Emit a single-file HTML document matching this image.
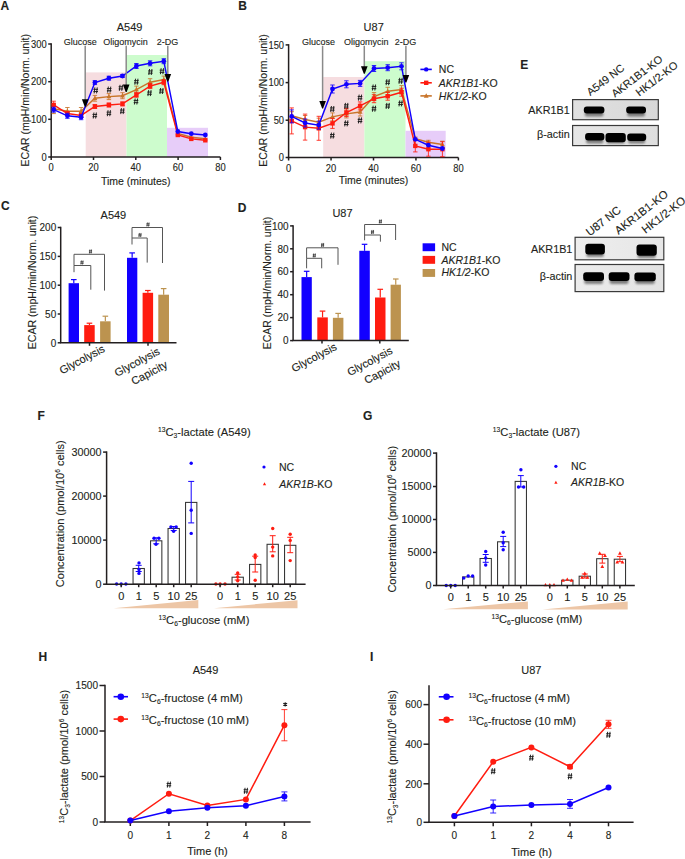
<!DOCTYPE html>
<html><head><meta charset="utf-8"><style>
html,body{margin:0;padding:0;background:#fff;}
svg{display:block;font-family:"Liberation Sans",sans-serif;}
text{stroke:#231f20;stroke-width:0.12px;}
</style></head><body>
<svg width="685" height="859" viewBox="0 0 685 859">
<defs><filter id="bl1" x="-20%" y="-50%" width="140%" height="200%"><feGaussianBlur stdDeviation="0.75"/></filter><filter id="bl2" x="-20%" y="-80%" width="140%" height="260%"><feGaussianBlur stdDeviation="1.3"/></filter></defs>
<rect width="685" height="859" fill="#fff"/>
<text x="0.5" y="9.8" font-size="12" font-weight="bold" fill="#231f20">A</text>
<text x="129.6" y="30.66" font-size="11" text-anchor="middle" fill="#231f20">A549</text>
<rect x="85.7" y="72.4" width="40.8" height="84.6" fill="#f6dde0"/>
<rect x="126.5" y="55" width="40.5" height="102" fill="#cdfccd"/>
<rect x="167" y="127.8" width="41" height="29.2" fill="#e7cdf9"/>
<line x1="51.2" y1="43.25" x2="51.2" y2="157" stroke="#231f20" stroke-width="1.5"/>
<line x1="48.2" y1="44" x2="51.2" y2="44" stroke="#231f20" stroke-width="1.5"/>
<text x="46.7" y="47.67" font-size="10.2" text-anchor="end" transform="translate(46.7 44) scale(0.92 1) translate(-46.7 -44)" fill="#231f20">300</text>
<line x1="48.2" y1="81.7" x2="51.2" y2="81.7" stroke="#231f20" stroke-width="1.5"/>
<text x="46.7" y="85.37" font-size="10.2" text-anchor="end" transform="translate(46.7 81.7) scale(0.92 1) translate(-46.7 -81.7)" fill="#231f20">200</text>
<line x1="48.2" y1="119.3" x2="51.2" y2="119.3" stroke="#231f20" stroke-width="1.5"/>
<text x="46.7" y="122.97" font-size="10.2" text-anchor="end" transform="translate(46.7 119.3) scale(0.92 1) translate(-46.7 -119.3)" fill="#231f20">100</text>
<line x1="48.2" y1="157" x2="51.2" y2="157" stroke="#231f20" stroke-width="1.5"/>
<text x="46.7" y="160.67" font-size="10.2" text-anchor="end" transform="translate(46.7 157) scale(0.92 1) translate(-46.7 -157)" fill="#231f20">0</text>
<line x1="50.45" y1="157" x2="220.4" y2="157" stroke="#231f20" stroke-width="1.5"/>
<line x1="51.2" y1="157" x2="51.2" y2="160" stroke="#231f20" stroke-width="1.5"/>
<text x="51.2" y="171.17" font-size="10.2" text-anchor="middle" transform="translate(51.2 167.5) scale(0.92 1) translate(-51.2 -167.5)" fill="#231f20">0</text>
<line x1="93.5" y1="157" x2="93.5" y2="160" stroke="#231f20" stroke-width="1.5"/>
<text x="93.5" y="171.17" font-size="10.2" text-anchor="middle" transform="translate(93.5 167.5) scale(0.92 1) translate(-93.5 -167.5)" fill="#231f20">20</text>
<line x1="135.8" y1="157" x2="135.8" y2="160" stroke="#231f20" stroke-width="1.5"/>
<text x="135.8" y="171.17" font-size="10.2" text-anchor="middle" transform="translate(135.8 167.5) scale(0.92 1) translate(-135.8 -167.5)" fill="#231f20">40</text>
<line x1="178.1" y1="157" x2="178.1" y2="160" stroke="#231f20" stroke-width="1.5"/>
<text x="178.1" y="171.17" font-size="10.2" text-anchor="middle" transform="translate(178.1 167.5) scale(0.92 1) translate(-178.1 -167.5)" fill="#231f20">60</text>
<line x1="220.4" y1="157" x2="220.4" y2="160" stroke="#231f20" stroke-width="1.5"/>
<text x="220.4" y="171.17" font-size="10.2" text-anchor="middle" transform="translate(220.4 167.5) scale(0.92 1) translate(-220.4 -167.5)" fill="#231f20">80</text>
<text x="135.8" y="184.78" font-size="10.5" text-anchor="middle" fill="#231f20">Time (minutes)</text>
<text x="25" y="104.08" font-size="10.5" text-anchor="middle" transform="translate(25 100.3) rotate(-90) translate(-25 -100.3)" fill="#231f20">ECAR (mpH/min/Norm. unit)</text>
<text x="80.2" y="45.14" font-size="9" text-anchor="middle" fill="#231f20">Glucose</text>
<text x="125.4" y="45.14" font-size="9" text-anchor="middle" fill="#231f20">Oligomycin</text>
<text x="167.5" y="45.14" font-size="9" text-anchor="middle" fill="#231f20">2-DG</text>
<line x1="53.7" y1="104" x2="53.7" y2="113.6" stroke="#c8742a" stroke-width="0.85"/>
<line x1="51.5" y1="104" x2="55.9" y2="104" stroke="#c8742a" stroke-width="0.85"/>
<line x1="51.5" y1="113.6" x2="55.9" y2="113.6" stroke="#c8742a" stroke-width="0.85"/>
<line x1="67.4" y1="107.5" x2="67.4" y2="114.9" stroke="#c8742a" stroke-width="0.85"/>
<line x1="65.2" y1="107.5" x2="69.6" y2="107.5" stroke="#c8742a" stroke-width="0.85"/>
<line x1="65.2" y1="114.9" x2="69.6" y2="114.9" stroke="#c8742a" stroke-width="0.85"/>
<line x1="81.1" y1="107.5" x2="81.1" y2="114.9" stroke="#c8742a" stroke-width="0.85"/>
<line x1="78.9" y1="107.5" x2="83.3" y2="107.5" stroke="#c8742a" stroke-width="0.85"/>
<line x1="78.9" y1="114.9" x2="83.3" y2="114.9" stroke="#c8742a" stroke-width="0.85"/>
<line x1="94.9" y1="95.4" x2="94.9" y2="101.2" stroke="#c8742a" stroke-width="0.85"/>
<line x1="92.7" y1="95.4" x2="97.1" y2="95.4" stroke="#c8742a" stroke-width="0.85"/>
<line x1="92.7" y1="101.2" x2="97.1" y2="101.2" stroke="#c8742a" stroke-width="0.85"/>
<line x1="108.9" y1="93.6" x2="108.9" y2="99.6" stroke="#c8742a" stroke-width="0.85"/>
<line x1="106.7" y1="93.6" x2="111.1" y2="93.6" stroke="#c8742a" stroke-width="0.85"/>
<line x1="106.7" y1="99.6" x2="111.1" y2="99.6" stroke="#c8742a" stroke-width="0.85"/>
<line x1="122.5" y1="92.7" x2="122.5" y2="98.7" stroke="#c8742a" stroke-width="0.85"/>
<line x1="120.3" y1="92.7" x2="124.7" y2="92.7" stroke="#c8742a" stroke-width="0.85"/>
<line x1="120.3" y1="98.7" x2="124.7" y2="98.7" stroke="#c8742a" stroke-width="0.85"/>
<line x1="136.4" y1="86.1" x2="136.4" y2="93.1" stroke="#c8742a" stroke-width="0.85"/>
<line x1="134.2" y1="86.1" x2="138.6" y2="86.1" stroke="#c8742a" stroke-width="0.85"/>
<line x1="134.2" y1="93.1" x2="138.6" y2="93.1" stroke="#c8742a" stroke-width="0.85"/>
<line x1="150.1" y1="78.7" x2="150.1" y2="85.7" stroke="#c8742a" stroke-width="0.85"/>
<line x1="147.9" y1="78.7" x2="152.3" y2="78.7" stroke="#c8742a" stroke-width="0.85"/>
<line x1="147.9" y1="85.7" x2="152.3" y2="85.7" stroke="#c8742a" stroke-width="0.85"/>
<line x1="163.8" y1="76.1" x2="163.8" y2="83.1" stroke="#c8742a" stroke-width="0.85"/>
<line x1="161.6" y1="76.1" x2="166" y2="76.1" stroke="#c8742a" stroke-width="0.85"/>
<line x1="161.6" y1="83.1" x2="166" y2="83.1" stroke="#c8742a" stroke-width="0.85"/>
<polyline points="53.7,108.8 67.4,111.2 81.1,111.2 94.9,98.3 108.9,96.6 122.5,95.7 136.4,89.6 150.1,82.2 163.8,79.6 177.8,133.5 191.3,137.3 205.3,138.8" fill="none" stroke="#c8742a" stroke-width="1.45"/>
<polygon points="53.7,106.16 51.28,110.56 56.12,110.56" fill="#c8742a"/>
<polygon points="67.4,108.56 64.98,112.96 69.82,112.96" fill="#c8742a"/>
<polygon points="81.1,108.56 78.68,112.96 83.52,112.96" fill="#c8742a"/>
<polygon points="94.9,95.66 92.48,100.06 97.32,100.06" fill="#c8742a"/>
<polygon points="108.9,93.96 106.48,98.36 111.32,98.36" fill="#c8742a"/>
<polygon points="122.5,93.06 120.08,97.46 124.92,97.46" fill="#c8742a"/>
<polygon points="136.4,86.96 133.98,91.36 138.82,91.36" fill="#c8742a"/>
<polygon points="150.1,79.56 147.68,83.96 152.52,83.96" fill="#c8742a"/>
<polygon points="163.8,76.96 161.38,81.36 166.22,81.36" fill="#c8742a"/>
<polygon points="177.8,130.86 175.38,135.26 180.22,135.26" fill="#c8742a"/>
<polygon points="191.3,134.66 188.88,139.06 193.72,139.06" fill="#c8742a"/>
<polygon points="205.3,136.16 202.88,140.56 207.72,140.56" fill="#c8742a"/>
<line x1="53.7" y1="101.2" x2="53.7" y2="108.6" stroke="#ff1c10" stroke-width="0.85"/>
<line x1="51.5" y1="101.2" x2="55.9" y2="101.2" stroke="#ff1c10" stroke-width="0.85"/>
<line x1="51.5" y1="108.6" x2="55.9" y2="108.6" stroke="#ff1c10" stroke-width="0.85"/>
<line x1="67.4" y1="111.5" x2="67.4" y2="115.5" stroke="#ff1c10" stroke-width="0.85"/>
<line x1="65.2" y1="111.5" x2="69.6" y2="111.5" stroke="#ff1c10" stroke-width="0.85"/>
<line x1="65.2" y1="115.5" x2="69.6" y2="115.5" stroke="#ff1c10" stroke-width="0.85"/>
<line x1="81.1" y1="113.4" x2="81.1" y2="117.4" stroke="#ff1c10" stroke-width="0.85"/>
<line x1="78.9" y1="113.4" x2="83.3" y2="113.4" stroke="#ff1c10" stroke-width="0.85"/>
<line x1="78.9" y1="117.4" x2="83.3" y2="117.4" stroke="#ff1c10" stroke-width="0.85"/>
<line x1="94.9" y1="104.5" x2="94.9" y2="108.5" stroke="#ff1c10" stroke-width="0.85"/>
<line x1="92.7" y1="104.5" x2="97.1" y2="104.5" stroke="#ff1c10" stroke-width="0.85"/>
<line x1="92.7" y1="108.5" x2="97.1" y2="108.5" stroke="#ff1c10" stroke-width="0.85"/>
<line x1="108.9" y1="103" x2="108.9" y2="107" stroke="#ff1c10" stroke-width="0.85"/>
<line x1="106.7" y1="103" x2="111.1" y2="103" stroke="#ff1c10" stroke-width="0.85"/>
<line x1="106.7" y1="107" x2="111.1" y2="107" stroke="#ff1c10" stroke-width="0.85"/>
<line x1="122.5" y1="101.9" x2="122.5" y2="105.9" stroke="#ff1c10" stroke-width="0.85"/>
<line x1="120.3" y1="101.9" x2="124.7" y2="101.9" stroke="#ff1c10" stroke-width="0.85"/>
<line x1="120.3" y1="105.9" x2="124.7" y2="105.9" stroke="#ff1c10" stroke-width="0.85"/>
<line x1="136.4" y1="92.3" x2="136.4" y2="97.3" stroke="#ff1c10" stroke-width="0.85"/>
<line x1="134.2" y1="92.3" x2="138.6" y2="92.3" stroke="#ff1c10" stroke-width="0.85"/>
<line x1="134.2" y1="97.3" x2="138.6" y2="97.3" stroke="#ff1c10" stroke-width="0.85"/>
<line x1="150.1" y1="83.6" x2="150.1" y2="88.6" stroke="#ff1c10" stroke-width="0.85"/>
<line x1="147.9" y1="83.6" x2="152.3" y2="83.6" stroke="#ff1c10" stroke-width="0.85"/>
<line x1="147.9" y1="88.6" x2="152.3" y2="88.6" stroke="#ff1c10" stroke-width="0.85"/>
<line x1="163.8" y1="79.7" x2="163.8" y2="84.7" stroke="#ff1c10" stroke-width="0.85"/>
<line x1="161.6" y1="79.7" x2="166" y2="79.7" stroke="#ff1c10" stroke-width="0.85"/>
<line x1="161.6" y1="84.7" x2="166" y2="84.7" stroke="#ff1c10" stroke-width="0.85"/>
<polyline points="53.7,104.9 67.4,113.5 81.1,115.4 94.9,106.5 108.9,105 122.5,103.9 136.4,94.8 150.1,86.1 163.8,82.2 177.8,135 191.3,138.9 205.3,140.3" fill="none" stroke="#ff1c10" stroke-width="1.45"/>
<rect x="51.5" y="102.7" width="4.4" height="4.4" fill="#ff1c10"/>
<rect x="65.2" y="111.3" width="4.4" height="4.4" fill="#ff1c10"/>
<rect x="78.9" y="113.2" width="4.4" height="4.4" fill="#ff1c10"/>
<rect x="92.7" y="104.3" width="4.4" height="4.4" fill="#ff1c10"/>
<rect x="106.7" y="102.8" width="4.4" height="4.4" fill="#ff1c10"/>
<rect x="120.3" y="101.7" width="4.4" height="4.4" fill="#ff1c10"/>
<rect x="134.2" y="92.6" width="4.4" height="4.4" fill="#ff1c10"/>
<rect x="147.9" y="83.9" width="4.4" height="4.4" fill="#ff1c10"/>
<rect x="161.6" y="80" width="4.4" height="4.4" fill="#ff1c10"/>
<rect x="175.6" y="132.8" width="4.4" height="4.4" fill="#ff1c10"/>
<rect x="189.1" y="136.7" width="4.4" height="4.4" fill="#ff1c10"/>
<rect x="203.1" y="138.1" width="4.4" height="4.4" fill="#ff1c10"/>
<line x1="53.7" y1="107.2" x2="53.7" y2="112.2" stroke="#1200ff" stroke-width="0.85"/>
<line x1="51.5" y1="107.2" x2="55.9" y2="107.2" stroke="#1200ff" stroke-width="0.85"/>
<line x1="51.5" y1="112.2" x2="55.9" y2="112.2" stroke="#1200ff" stroke-width="0.85"/>
<line x1="67.4" y1="113.3" x2="67.4" y2="118.3" stroke="#1200ff" stroke-width="0.85"/>
<line x1="65.2" y1="113.3" x2="69.6" y2="113.3" stroke="#1200ff" stroke-width="0.85"/>
<line x1="65.2" y1="118.3" x2="69.6" y2="118.3" stroke="#1200ff" stroke-width="0.85"/>
<line x1="81.1" y1="114.7" x2="81.1" y2="119.7" stroke="#1200ff" stroke-width="0.85"/>
<line x1="78.9" y1="114.7" x2="83.3" y2="114.7" stroke="#1200ff" stroke-width="0.85"/>
<line x1="78.9" y1="119.7" x2="83.3" y2="119.7" stroke="#1200ff" stroke-width="0.85"/>
<line x1="94.9" y1="80.6" x2="94.9" y2="84.6" stroke="#1200ff" stroke-width="0.85"/>
<line x1="92.7" y1="80.6" x2="97.1" y2="80.6" stroke="#1200ff" stroke-width="0.85"/>
<line x1="92.7" y1="84.6" x2="97.1" y2="84.6" stroke="#1200ff" stroke-width="0.85"/>
<line x1="108.9" y1="76.2" x2="108.9" y2="80.2" stroke="#1200ff" stroke-width="0.85"/>
<line x1="106.7" y1="76.2" x2="111.1" y2="76.2" stroke="#1200ff" stroke-width="0.85"/>
<line x1="106.7" y1="80.2" x2="111.1" y2="80.2" stroke="#1200ff" stroke-width="0.85"/>
<line x1="122.5" y1="74.5" x2="122.5" y2="77.5" stroke="#1200ff" stroke-width="0.85"/>
<line x1="120.3" y1="74.5" x2="124.7" y2="74.5" stroke="#1200ff" stroke-width="0.85"/>
<line x1="120.3" y1="77.5" x2="124.7" y2="77.5" stroke="#1200ff" stroke-width="0.85"/>
<line x1="136.4" y1="63.5" x2="136.4" y2="68.5" stroke="#1200ff" stroke-width="0.85"/>
<line x1="134.2" y1="63.5" x2="138.6" y2="63.5" stroke="#1200ff" stroke-width="0.85"/>
<line x1="134.2" y1="68.5" x2="138.6" y2="68.5" stroke="#1200ff" stroke-width="0.85"/>
<line x1="150.1" y1="60.8" x2="150.1" y2="65.8" stroke="#1200ff" stroke-width="0.85"/>
<line x1="147.9" y1="60.8" x2="152.3" y2="60.8" stroke="#1200ff" stroke-width="0.85"/>
<line x1="147.9" y1="65.8" x2="152.3" y2="65.8" stroke="#1200ff" stroke-width="0.85"/>
<line x1="163.8" y1="58.7" x2="163.8" y2="63.7" stroke="#1200ff" stroke-width="0.85"/>
<line x1="161.6" y1="58.7" x2="166" y2="58.7" stroke="#1200ff" stroke-width="0.85"/>
<line x1="161.6" y1="63.7" x2="166" y2="63.7" stroke="#1200ff" stroke-width="0.85"/>
<polyline points="53.7,109.7 67.4,115.8 81.1,117.2 94.9,82.6 108.9,78.2 122.5,76 136.4,66 150.1,63.3 163.8,61.2 177.8,131.5 191.3,133.7 205.3,135" fill="none" stroke="#1200ff" stroke-width="1.45"/>
<circle cx="53.7" cy="109.7" r="2.4" fill="#1200ff"/>
<circle cx="67.4" cy="115.8" r="2.4" fill="#1200ff"/>
<circle cx="81.1" cy="117.2" r="2.4" fill="#1200ff"/>
<circle cx="94.9" cy="82.6" r="2.4" fill="#1200ff"/>
<circle cx="108.9" cy="78.2" r="2.4" fill="#1200ff"/>
<circle cx="122.5" cy="76" r="2.4" fill="#1200ff"/>
<circle cx="136.4" cy="66" r="2.4" fill="#1200ff"/>
<circle cx="150.1" cy="63.3" r="2.4" fill="#1200ff"/>
<circle cx="163.8" cy="61.2" r="2.4" fill="#1200ff"/>
<circle cx="177.8" cy="131.5" r="2.4" fill="#1200ff"/>
<circle cx="191.3" cy="133.7" r="2.4" fill="#1200ff"/>
<circle cx="205.3" cy="135" r="2.4" fill="#1200ff"/>
<path d="M94.85 87.4L94.15 93.4M97.25 87.4L96.55 93.4M93.4 89.35L98 89.35M93.4 91.55L98 91.55" stroke="#1a1a1a" stroke-width="0.95" fill="none"/>
<path d="M108.35 86.6L107.65 92.6M110.75 86.6L110.05 92.6M106.9 88.55L111.5 88.55M106.9 90.75L111.5 90.75" stroke="#1a1a1a" stroke-width="0.95" fill="none"/>
<path d="M120.05 84.8L119.35 90.8M122.45 84.8L121.75 90.8M118.6 86.75L123.2 86.75M118.6 88.95L123.2 88.95" stroke="#1a1a1a" stroke-width="0.95" fill="none"/>
<path d="M135.55 78.7L134.85 84.7M137.95 78.7L137.25 84.7M134.1 80.65L138.7 80.65M134.1 82.85L138.7 82.85" stroke="#1a1a1a" stroke-width="0.95" fill="none"/>
<path d="M149.55 69L148.85 75M151.95 69L151.25 75M148.1 70.95L152.7 70.95M148.1 73.15L152.7 73.15" stroke="#1a1a1a" stroke-width="0.95" fill="none"/>
<path d="M161.15 68.2L160.45 74.2M163.55 68.2L162.85 74.2M159.7 70.15L164.3 70.15M159.7 72.35L164.3 72.35" stroke="#1a1a1a" stroke-width="0.95" fill="none"/>
<path d="M93.95 112.5L93.25 118.5M96.35 112.5L95.65 118.5M92.5 114.45L97.1 114.45M92.5 116.65L97.1 116.65" stroke="#1a1a1a" stroke-width="0.95" fill="none"/>
<path d="M108.05 110.2L107.35 116.2M110.45 110.2L109.75 116.2M106.6 112.15L111.2 112.15M106.6 114.35L111.2 114.35" stroke="#1a1a1a" stroke-width="0.95" fill="none"/>
<path d="M121.45 108.1L120.75 114.1M123.85 108.1L123.15 114.1M120 110.05L124.6 110.05M120 112.25L124.6 112.25" stroke="#1a1a1a" stroke-width="0.95" fill="none"/>
<path d="M135.15 98.5L134.45 104.5M137.55 98.5L136.85 104.5M133.7 100.45L138.3 100.45M133.7 102.65L138.3 102.65" stroke="#1a1a1a" stroke-width="0.95" fill="none"/>
<path d="M148.65 90.1L147.95 96.1M151.05 90.1L150.35 96.1M147.2 92.05L151.8 92.05M147.2 94.25L151.8 94.25" stroke="#1a1a1a" stroke-width="0.95" fill="none"/>
<path d="M160.65 88L159.95 94M163.05 88L162.35 94M159.2 89.95L163.8 89.95M159.2 92.15L163.8 92.15" stroke="#1a1a1a" stroke-width="0.95" fill="none"/>
<line x1="85.2" y1="45.8" x2="85.2" y2="100.3" stroke="#8a8a8a" stroke-width="1.5"/>
<polygon points="81.9,99.3 88.5,99.3 85.7,106.8 84.7,106.8" fill="#000"/>
<line x1="126.2" y1="45.8" x2="126.2" y2="85.6" stroke="#8a8a8a" stroke-width="1.5"/>
<polygon points="122.9,84.6 129.5,84.6 126.7,92.1 125.7,92.1" fill="#000"/>
<line x1="167.8" y1="45.8" x2="167.8" y2="74.9" stroke="#8a8a8a" stroke-width="1.5"/>
<polygon points="164.5,73.9 171.1,73.9 168.3,81.4 167.3,81.4" fill="#000"/>
<text x="238.3" y="9.8" font-size="12" font-weight="bold" fill="#231f20">B</text>
<text x="373.7" y="30.86" font-size="11" text-anchor="middle" fill="#231f20">U87</text>
<rect x="323.2" y="77" width="41.2" height="80.5" fill="#f6dde0"/>
<rect x="364.4" y="61.2" width="41.1" height="96.3" fill="#cdfccd"/>
<rect x="405.5" y="130.8" width="40.2" height="26.7" fill="#e7cdf9"/>
<line x1="288.6" y1="44.15" x2="288.6" y2="157.5" stroke="#231f20" stroke-width="1.5"/>
<line x1="285.6" y1="44.9" x2="288.6" y2="44.9" stroke="#231f20" stroke-width="1.5"/>
<text x="284.1" y="48.57" font-size="10.2" text-anchor="end" transform="translate(284.1 44.9) scale(0.92 1) translate(-284.1 -44.9)" fill="#231f20">150</text>
<line x1="285.6" y1="82.6" x2="288.6" y2="82.6" stroke="#231f20" stroke-width="1.5"/>
<text x="284.1" y="86.27" font-size="10.2" text-anchor="end" transform="translate(284.1 82.6) scale(0.92 1) translate(-284.1 -82.6)" fill="#231f20">100</text>
<line x1="285.6" y1="120.2" x2="288.6" y2="120.2" stroke="#231f20" stroke-width="1.5"/>
<text x="284.1" y="123.87" font-size="10.2" text-anchor="end" transform="translate(284.1 120.2) scale(0.92 1) translate(-284.1 -120.2)" fill="#231f20">50</text>
<line x1="285.6" y1="157.5" x2="288.6" y2="157.5" stroke="#231f20" stroke-width="1.5"/>
<text x="284.1" y="161.17" font-size="10.2" text-anchor="end" transform="translate(284.1 157.5) scale(0.92 1) translate(-284.1 -157.5)" fill="#231f20">0</text>
<line x1="287.85" y1="157.5" x2="458.4" y2="157.5" stroke="#231f20" stroke-width="1.5"/>
<line x1="288.6" y1="157.5" x2="288.6" y2="160.5" stroke="#231f20" stroke-width="1.5"/>
<text x="288.6" y="171.67" font-size="10.2" text-anchor="middle" transform="translate(288.6 168) scale(0.92 1) translate(-288.6 -168)" fill="#231f20">0</text>
<line x1="331.05" y1="157.5" x2="331.05" y2="160.5" stroke="#231f20" stroke-width="1.5"/>
<text x="331.05" y="171.67" font-size="10.2" text-anchor="middle" transform="translate(331.05 168) scale(0.92 1) translate(-331.05 -168)" fill="#231f20">20</text>
<line x1="373.5" y1="157.5" x2="373.5" y2="160.5" stroke="#231f20" stroke-width="1.5"/>
<text x="373.5" y="171.67" font-size="10.2" text-anchor="middle" transform="translate(373.5 168) scale(0.92 1) translate(-373.5 -168)" fill="#231f20">40</text>
<line x1="415.95" y1="157.5" x2="415.95" y2="160.5" stroke="#231f20" stroke-width="1.5"/>
<text x="415.95" y="171.67" font-size="10.2" text-anchor="middle" transform="translate(415.95 168) scale(0.92 1) translate(-415.95 -168)" fill="#231f20">60</text>
<line x1="458.4" y1="157.5" x2="458.4" y2="160.5" stroke="#231f20" stroke-width="1.5"/>
<text x="458.4" y="171.67" font-size="10.2" text-anchor="middle" transform="translate(458.4 168) scale(0.92 1) translate(-458.4 -168)" fill="#231f20">80</text>
<text x="373.5" y="183.98" font-size="10.5" text-anchor="middle" fill="#231f20">Time (minutes)</text>
<text x="263" y="104.28" font-size="10.5" text-anchor="middle" transform="translate(263 100.5) rotate(-90) translate(-263 -100.5)" fill="#231f20">ECAR (mpH/min/Norm. unit)</text>
<text x="318.5" y="45.14" font-size="9" text-anchor="middle" fill="#231f20">Glucose</text>
<text x="366.2" y="45.14" font-size="9" text-anchor="middle" fill="#231f20">Oligomycin</text>
<text x="405.5" y="45.14" font-size="9" text-anchor="middle" fill="#231f20">2-DG</text>
<line x1="291.7" y1="111.7" x2="291.7" y2="119.7" stroke="#c8742a" stroke-width="0.85"/>
<line x1="289.5" y1="111.7" x2="293.9" y2="111.7" stroke="#c8742a" stroke-width="0.85"/>
<line x1="289.5" y1="119.7" x2="293.9" y2="119.7" stroke="#c8742a" stroke-width="0.85"/>
<line x1="305.1" y1="115.5" x2="305.1" y2="123.5" stroke="#c8742a" stroke-width="0.85"/>
<line x1="302.9" y1="115.5" x2="307.3" y2="115.5" stroke="#c8742a" stroke-width="0.85"/>
<line x1="302.9" y1="123.5" x2="307.3" y2="123.5" stroke="#c8742a" stroke-width="0.85"/>
<line x1="318.8" y1="118.2" x2="318.8" y2="126.2" stroke="#c8742a" stroke-width="0.85"/>
<line x1="316.6" y1="118.2" x2="321" y2="118.2" stroke="#c8742a" stroke-width="0.85"/>
<line x1="316.6" y1="126.2" x2="321" y2="126.2" stroke="#c8742a" stroke-width="0.85"/>
<line x1="332.5" y1="112.9" x2="332.5" y2="120.9" stroke="#c8742a" stroke-width="0.85"/>
<line x1="330.3" y1="112.9" x2="334.7" y2="112.9" stroke="#c8742a" stroke-width="0.85"/>
<line x1="330.3" y1="120.9" x2="334.7" y2="120.9" stroke="#c8742a" stroke-width="0.85"/>
<line x1="346.4" y1="109.9" x2="346.4" y2="117.9" stroke="#c8742a" stroke-width="0.85"/>
<line x1="344.2" y1="109.9" x2="348.6" y2="109.9" stroke="#c8742a" stroke-width="0.85"/>
<line x1="344.2" y1="117.9" x2="348.6" y2="117.9" stroke="#c8742a" stroke-width="0.85"/>
<line x1="360.1" y1="108" x2="360.1" y2="116" stroke="#c8742a" stroke-width="0.85"/>
<line x1="357.9" y1="108" x2="362.3" y2="108" stroke="#c8742a" stroke-width="0.85"/>
<line x1="357.9" y1="116" x2="362.3" y2="116" stroke="#c8742a" stroke-width="0.85"/>
<line x1="374" y1="92.6" x2="374" y2="100.6" stroke="#c8742a" stroke-width="0.85"/>
<line x1="371.8" y1="92.6" x2="376.2" y2="92.6" stroke="#c8742a" stroke-width="0.85"/>
<line x1="371.8" y1="100.6" x2="376.2" y2="100.6" stroke="#c8742a" stroke-width="0.85"/>
<line x1="387.7" y1="87.3" x2="387.7" y2="95.3" stroke="#c8742a" stroke-width="0.85"/>
<line x1="385.5" y1="87.3" x2="389.9" y2="87.3" stroke="#c8742a" stroke-width="0.85"/>
<line x1="385.5" y1="95.3" x2="389.9" y2="95.3" stroke="#c8742a" stroke-width="0.85"/>
<line x1="401.5" y1="85.6" x2="401.5" y2="93.6" stroke="#c8742a" stroke-width="0.85"/>
<line x1="399.3" y1="85.6" x2="403.7" y2="85.6" stroke="#c8742a" stroke-width="0.85"/>
<line x1="399.3" y1="93.6" x2="403.7" y2="93.6" stroke="#c8742a" stroke-width="0.85"/>
<line x1="415.3" y1="137.1" x2="415.3" y2="140.1" stroke="#c8742a" stroke-width="0.85"/>
<line x1="413.1" y1="137.1" x2="417.5" y2="137.1" stroke="#c8742a" stroke-width="0.85"/>
<line x1="413.1" y1="140.1" x2="417.5" y2="140.1" stroke="#c8742a" stroke-width="0.85"/>
<line x1="428.4" y1="140.3" x2="428.4" y2="144.3" stroke="#c8742a" stroke-width="0.85"/>
<line x1="426.2" y1="140.3" x2="430.6" y2="140.3" stroke="#c8742a" stroke-width="0.85"/>
<line x1="426.2" y1="144.3" x2="430.6" y2="144.3" stroke="#c8742a" stroke-width="0.85"/>
<line x1="442.4" y1="141.2" x2="442.4" y2="147.8" stroke="#c8742a" stroke-width="0.85"/>
<line x1="440.2" y1="141.2" x2="444.6" y2="141.2" stroke="#c8742a" stroke-width="0.85"/>
<line x1="440.2" y1="147.8" x2="444.6" y2="147.8" stroke="#c8742a" stroke-width="0.85"/>
<polyline points="291.7,115.7 305.1,119.5 318.8,122.2 332.5,116.9 346.4,113.9 360.1,112 374,96.6 387.7,91.3 401.5,89.6 415.3,138.6 428.4,142.3 442.4,144.5" fill="none" stroke="#c8742a" stroke-width="1.45"/>
<polygon points="291.7,113.06 289.28,117.46 294.12,117.46" fill="#c8742a"/>
<polygon points="305.1,116.86 302.68,121.26 307.52,121.26" fill="#c8742a"/>
<polygon points="318.8,119.56 316.38,123.96 321.22,123.96" fill="#c8742a"/>
<polygon points="332.5,114.26 330.08,118.66 334.92,118.66" fill="#c8742a"/>
<polygon points="346.4,111.26 343.98,115.66 348.82,115.66" fill="#c8742a"/>
<polygon points="360.1,109.36 357.68,113.76 362.52,113.76" fill="#c8742a"/>
<polygon points="374,93.96 371.58,98.36 376.42,98.36" fill="#c8742a"/>
<polygon points="387.7,88.66 385.28,93.06 390.12,93.06" fill="#c8742a"/>
<polygon points="401.5,86.96 399.08,91.36 403.92,91.36" fill="#c8742a"/>
<polygon points="415.3,135.96 412.88,140.36 417.72,140.36" fill="#c8742a"/>
<polygon points="428.4,139.66 425.98,144.06 430.82,144.06" fill="#c8742a"/>
<polygon points="442.4,141.86 439.98,146.26 444.82,146.26" fill="#c8742a"/>
<line x1="291.7" y1="107.9" x2="291.7" y2="133.9" stroke="#ff1c10" stroke-width="0.85"/>
<line x1="289.5" y1="107.9" x2="293.9" y2="107.9" stroke="#ff1c10" stroke-width="0.85"/>
<line x1="289.5" y1="133.9" x2="293.9" y2="133.9" stroke="#ff1c10" stroke-width="0.85"/>
<line x1="305.1" y1="114.1" x2="305.1" y2="140.1" stroke="#ff1c10" stroke-width="0.85"/>
<line x1="302.9" y1="114.1" x2="307.3" y2="114.1" stroke="#ff1c10" stroke-width="0.85"/>
<line x1="302.9" y1="140.1" x2="307.3" y2="140.1" stroke="#ff1c10" stroke-width="0.85"/>
<line x1="318.8" y1="116.3" x2="318.8" y2="140.3" stroke="#ff1c10" stroke-width="0.85"/>
<line x1="316.6" y1="116.3" x2="321" y2="116.3" stroke="#ff1c10" stroke-width="0.85"/>
<line x1="316.6" y1="140.3" x2="321" y2="140.3" stroke="#ff1c10" stroke-width="0.85"/>
<line x1="332.5" y1="118.4" x2="332.5" y2="128.4" stroke="#ff1c10" stroke-width="0.85"/>
<line x1="330.3" y1="118.4" x2="334.7" y2="118.4" stroke="#ff1c10" stroke-width="0.85"/>
<line x1="330.3" y1="128.4" x2="334.7" y2="128.4" stroke="#ff1c10" stroke-width="0.85"/>
<line x1="346.4" y1="108.5" x2="346.4" y2="116.5" stroke="#ff1c10" stroke-width="0.85"/>
<line x1="344.2" y1="108.5" x2="348.6" y2="108.5" stroke="#ff1c10" stroke-width="0.85"/>
<line x1="344.2" y1="116.5" x2="348.6" y2="116.5" stroke="#ff1c10" stroke-width="0.85"/>
<line x1="360.1" y1="101.9" x2="360.1" y2="109.9" stroke="#ff1c10" stroke-width="0.85"/>
<line x1="357.9" y1="101.9" x2="362.3" y2="101.9" stroke="#ff1c10" stroke-width="0.85"/>
<line x1="357.9" y1="109.9" x2="362.3" y2="109.9" stroke="#ff1c10" stroke-width="0.85"/>
<line x1="374" y1="94.7" x2="374" y2="102.7" stroke="#ff1c10" stroke-width="0.85"/>
<line x1="371.8" y1="94.7" x2="376.2" y2="94.7" stroke="#ff1c10" stroke-width="0.85"/>
<line x1="371.8" y1="102.7" x2="376.2" y2="102.7" stroke="#ff1c10" stroke-width="0.85"/>
<line x1="387.7" y1="92.2" x2="387.7" y2="100.2" stroke="#ff1c10" stroke-width="0.85"/>
<line x1="385.5" y1="92.2" x2="389.9" y2="92.2" stroke="#ff1c10" stroke-width="0.85"/>
<line x1="385.5" y1="100.2" x2="389.9" y2="100.2" stroke="#ff1c10" stroke-width="0.85"/>
<line x1="401.5" y1="88.2" x2="401.5" y2="96.2" stroke="#ff1c10" stroke-width="0.85"/>
<line x1="399.3" y1="88.2" x2="403.7" y2="88.2" stroke="#ff1c10" stroke-width="0.85"/>
<line x1="399.3" y1="96.2" x2="403.7" y2="96.2" stroke="#ff1c10" stroke-width="0.85"/>
<line x1="415.3" y1="139.9" x2="415.3" y2="151.9" stroke="#ff1c10" stroke-width="0.85"/>
<line x1="413.1" y1="139.9" x2="417.5" y2="139.9" stroke="#ff1c10" stroke-width="0.85"/>
<line x1="413.1" y1="151.9" x2="417.5" y2="151.9" stroke="#ff1c10" stroke-width="0.85"/>
<line x1="428.4" y1="142.2" x2="428.4" y2="156.2" stroke="#ff1c10" stroke-width="0.85"/>
<line x1="426.2" y1="142.2" x2="430.6" y2="142.2" stroke="#ff1c10" stroke-width="0.85"/>
<line x1="426.2" y1="156.2" x2="430.6" y2="156.2" stroke="#ff1c10" stroke-width="0.85"/>
<line x1="442.4" y1="141.7" x2="442.4" y2="156.7" stroke="#ff1c10" stroke-width="0.85"/>
<line x1="440.2" y1="141.7" x2="444.6" y2="141.7" stroke="#ff1c10" stroke-width="0.85"/>
<line x1="440.2" y1="156.7" x2="444.6" y2="156.7" stroke="#ff1c10" stroke-width="0.85"/>
<polyline points="291.7,120.9 305.1,127.1 318.8,128.3 332.5,123.4 346.4,112.5 360.1,105.9 374,98.7 387.7,96.2 401.5,92.2 415.3,145.9 428.4,149.2 442.4,149.2" fill="none" stroke="#ff1c10" stroke-width="1.45"/>
<rect x="289.5" y="118.7" width="4.4" height="4.4" fill="#ff1c10"/>
<rect x="302.9" y="124.9" width="4.4" height="4.4" fill="#ff1c10"/>
<rect x="316.6" y="126.1" width="4.4" height="4.4" fill="#ff1c10"/>
<rect x="330.3" y="121.2" width="4.4" height="4.4" fill="#ff1c10"/>
<rect x="344.2" y="110.3" width="4.4" height="4.4" fill="#ff1c10"/>
<rect x="357.9" y="103.7" width="4.4" height="4.4" fill="#ff1c10"/>
<rect x="371.8" y="96.5" width="4.4" height="4.4" fill="#ff1c10"/>
<rect x="385.5" y="94" width="4.4" height="4.4" fill="#ff1c10"/>
<rect x="399.3" y="90" width="4.4" height="4.4" fill="#ff1c10"/>
<rect x="413.1" y="143.7" width="4.4" height="4.4" fill="#ff1c10"/>
<rect x="426.2" y="147" width="4.4" height="4.4" fill="#ff1c10"/>
<rect x="440.2" y="147" width="4.4" height="4.4" fill="#ff1c10"/>
<line x1="291.7" y1="109.9" x2="291.7" y2="122.9" stroke="#1200ff" stroke-width="0.85"/>
<line x1="289.5" y1="109.9" x2="293.9" y2="109.9" stroke="#1200ff" stroke-width="0.85"/>
<line x1="289.5" y1="122.9" x2="293.9" y2="122.9" stroke="#1200ff" stroke-width="0.85"/>
<line x1="305.1" y1="119" x2="305.1" y2="127" stroke="#1200ff" stroke-width="0.85"/>
<line x1="302.9" y1="119" x2="307.3" y2="119" stroke="#1200ff" stroke-width="0.85"/>
<line x1="302.9" y1="127" x2="307.3" y2="127" stroke="#1200ff" stroke-width="0.85"/>
<line x1="318.8" y1="121.1" x2="318.8" y2="129.1" stroke="#1200ff" stroke-width="0.85"/>
<line x1="316.6" y1="121.1" x2="321" y2="121.1" stroke="#1200ff" stroke-width="0.85"/>
<line x1="316.6" y1="129.1" x2="321" y2="129.1" stroke="#1200ff" stroke-width="0.85"/>
<line x1="332.5" y1="85" x2="332.5" y2="93" stroke="#1200ff" stroke-width="0.85"/>
<line x1="330.3" y1="85" x2="334.7" y2="85" stroke="#1200ff" stroke-width="0.85"/>
<line x1="330.3" y1="93" x2="334.7" y2="93" stroke="#1200ff" stroke-width="0.85"/>
<line x1="346.4" y1="80.8" x2="346.4" y2="87.8" stroke="#1200ff" stroke-width="0.85"/>
<line x1="344.2" y1="80.8" x2="348.6" y2="80.8" stroke="#1200ff" stroke-width="0.85"/>
<line x1="344.2" y1="87.8" x2="348.6" y2="87.8" stroke="#1200ff" stroke-width="0.85"/>
<line x1="360.1" y1="80.4" x2="360.1" y2="86.4" stroke="#1200ff" stroke-width="0.85"/>
<line x1="357.9" y1="80.4" x2="362.3" y2="80.4" stroke="#1200ff" stroke-width="0.85"/>
<line x1="357.9" y1="86.4" x2="362.3" y2="86.4" stroke="#1200ff" stroke-width="0.85"/>
<line x1="374" y1="65.5" x2="374" y2="71.5" stroke="#1200ff" stroke-width="0.85"/>
<line x1="371.8" y1="65.5" x2="376.2" y2="65.5" stroke="#1200ff" stroke-width="0.85"/>
<line x1="371.8" y1="71.5" x2="376.2" y2="71.5" stroke="#1200ff" stroke-width="0.85"/>
<line x1="387.7" y1="64.7" x2="387.7" y2="70.7" stroke="#1200ff" stroke-width="0.85"/>
<line x1="385.5" y1="64.7" x2="389.9" y2="64.7" stroke="#1200ff" stroke-width="0.85"/>
<line x1="385.5" y1="70.7" x2="389.9" y2="70.7" stroke="#1200ff" stroke-width="0.85"/>
<line x1="401.5" y1="62.8" x2="401.5" y2="69.8" stroke="#1200ff" stroke-width="0.85"/>
<line x1="399.3" y1="62.8" x2="403.7" y2="62.8" stroke="#1200ff" stroke-width="0.85"/>
<line x1="399.3" y1="69.8" x2="403.7" y2="69.8" stroke="#1200ff" stroke-width="0.85"/>
<polyline points="291.7,116.4 305.1,123 318.8,125.1 332.5,89 346.4,84.3 360.1,83.4 374,68.5 387.7,67.7 401.5,66.3 415.3,139.3 428.4,145.2 442.4,148.5" fill="none" stroke="#1200ff" stroke-width="1.45"/>
<circle cx="291.7" cy="116.4" r="2.4" fill="#1200ff"/>
<circle cx="305.1" cy="123" r="2.4" fill="#1200ff"/>
<circle cx="318.8" cy="125.1" r="2.4" fill="#1200ff"/>
<circle cx="332.5" cy="89" r="2.4" fill="#1200ff"/>
<circle cx="346.4" cy="84.3" r="2.4" fill="#1200ff"/>
<circle cx="360.1" cy="83.4" r="2.4" fill="#1200ff"/>
<circle cx="374" cy="68.5" r="2.4" fill="#1200ff"/>
<circle cx="387.7" cy="67.7" r="2.4" fill="#1200ff"/>
<circle cx="401.5" cy="66.3" r="2.4" fill="#1200ff"/>
<circle cx="415.3" cy="139.3" r="2.4" fill="#1200ff"/>
<circle cx="428.4" cy="145.2" r="2.4" fill="#1200ff"/>
<circle cx="442.4" cy="148.5" r="2.4" fill="#1200ff"/>
<path d="M331.45 106L330.75 112M333.85 106L333.15 112M330 107.95L334.6 107.95M330 110.15L334.6 110.15" stroke="#1a1a1a" stroke-width="0.95" fill="none"/>
<path d="M345.45 102.9L344.75 108.9M347.85 102.9L347.15 108.9M344 104.85L348.6 104.85M344 107.05L348.6 107.05" stroke="#1a1a1a" stroke-width="0.95" fill="none"/>
<path d="M359.15 94.6L358.45 100.6M361.55 94.6L360.85 100.6M357.7 96.55L362.3 96.55M357.7 98.75L362.3 98.75" stroke="#1a1a1a" stroke-width="0.95" fill="none"/>
<path d="M373.15 84.5L372.45 90.5M375.55 84.5L374.85 90.5M371.7 86.45L376.3 86.45M371.7 88.65L376.3 88.65" stroke="#1a1a1a" stroke-width="0.95" fill="none"/>
<path d="M386.85 79.2L386.15 85.2M389.25 79.2L388.55 85.2M385.4 81.15L390 81.15M385.4 83.35L390 83.35" stroke="#1a1a1a" stroke-width="0.95" fill="none"/>
<path d="M399.75 77.8L399.05 83.8M402.15 77.8L401.45 83.8M398.3 79.75L402.9 79.75M398.3 81.95L402.9 81.95" stroke="#1a1a1a" stroke-width="0.95" fill="none"/>
<path d="M331.45 132.6L330.75 138.6M333.85 132.6L333.15 138.6M330 134.55L334.6 134.55M330 136.75L334.6 136.75" stroke="#1a1a1a" stroke-width="0.95" fill="none"/>
<path d="M345.45 120.4L344.75 126.4M347.85 120.4L347.15 126.4M344 122.35L348.6 122.35M344 124.55L348.6 124.55" stroke="#1a1a1a" stroke-width="0.95" fill="none"/>
<path d="M359.15 117.4L358.45 123.4M361.55 117.4L360.85 123.4M357.7 119.35L362.3 119.35M357.7 121.55L362.3 121.55" stroke="#1a1a1a" stroke-width="0.95" fill="none"/>
<path d="M373.15 105.7L372.45 111.7M375.55 105.7L374.85 111.7M371.7 107.65L376.3 107.65M371.7 109.85L376.3 109.85" stroke="#1a1a1a" stroke-width="0.95" fill="none"/>
<path d="M386.85 102.9L386.15 108.9M389.25 102.9L388.55 108.9M385.4 104.85L390 104.85M385.4 107.05L390 107.05" stroke="#1a1a1a" stroke-width="0.95" fill="none"/>
<path d="M399.75 100.4L399.05 106.4M402.15 100.4L401.45 106.4M398.3 102.35L402.9 102.35M398.3 104.55L402.9 104.55" stroke="#1a1a1a" stroke-width="0.95" fill="none"/>
<line x1="322.6" y1="45.8" x2="322.6" y2="102" stroke="#8a8a8a" stroke-width="1.5"/>
<polygon points="319.3,101 325.9,101 323.1,108.5 322.1,108.5" fill="#000"/>
<line x1="364.3" y1="45.8" x2="364.3" y2="67.2" stroke="#8a8a8a" stroke-width="1.5"/>
<polygon points="361,66.2 367.6,66.2 364.8,73.7 363.8,73.7" fill="#000"/>
<line x1="405.9" y1="45.8" x2="405.9" y2="76.1" stroke="#8a8a8a" stroke-width="1.5"/>
<polygon points="402.6,75.1 409.2,75.1 406.4,82.6 405.4,82.6" fill="#000"/>
<line x1="420.4" y1="69.4" x2="431.8" y2="69.4" stroke="#1200ff" stroke-width="1.6"/>
<circle cx="426.2" cy="69.4" r="2.2" fill="#1200ff"/>
<line x1="420.4" y1="82.8" x2="431.8" y2="82.8" stroke="#ff1c10" stroke-width="1.6"/>
<rect x="424" y="80.6" width="4.4" height="4.4" fill="#ff1c10"/>
<line x1="420.4" y1="95.9" x2="431.8" y2="95.9" stroke="#c8742a" stroke-width="1.6"/>
<polygon points="426.2,93.26 423.78,97.66 428.62,97.66" fill="#c8742a"/>
<text x="438.8" y="73.18" font-size="10.5" fill="#231f20">NC</text>
<text x="438.8" y="86.58" font-size="10.5" fill="#231f20"><tspan font-style="italic">AKR1B1</tspan>-KO</text>
<text x="438.8" y="99.68" font-size="10.5" fill="#231f20"><tspan font-style="italic">HK1/2</tspan>-KO</text>
<text x="1" y="209.6" font-size="12" font-weight="bold" fill="#231f20">C</text>
<text x="113.4" y="219.26" font-size="11" text-anchor="middle" fill="#231f20">A549</text>
<line x1="60.7" y1="226.75" x2="60.7" y2="342.8" stroke="#231f20" stroke-width="1.5"/>
<line x1="57.7" y1="227.5" x2="60.7" y2="227.5" stroke="#231f20" stroke-width="1.5"/>
<text x="56.2" y="231.28" font-size="10.5" text-anchor="end" transform="translate(56.2 227.5) scale(0.95 1) translate(-56.2 -227.5)" fill="#231f20">200</text>
<line x1="57.7" y1="256.4" x2="60.7" y2="256.4" stroke="#231f20" stroke-width="1.5"/>
<text x="56.2" y="260.18" font-size="10.5" text-anchor="end" transform="translate(56.2 256.4) scale(0.95 1) translate(-56.2 -256.4)" fill="#231f20">150</text>
<line x1="57.7" y1="285.2" x2="60.7" y2="285.2" stroke="#231f20" stroke-width="1.5"/>
<text x="56.2" y="288.98" font-size="10.5" text-anchor="end" transform="translate(56.2 285.2) scale(0.95 1) translate(-56.2 -285.2)" fill="#231f20">100</text>
<line x1="57.7" y1="314" x2="60.7" y2="314" stroke="#231f20" stroke-width="1.5"/>
<text x="56.2" y="317.78" font-size="10.5" text-anchor="end" transform="translate(56.2 314) scale(0.95 1) translate(-56.2 -314)" fill="#231f20">50</text>
<line x1="57.7" y1="342.8" x2="60.7" y2="342.8" stroke="#231f20" stroke-width="1.5"/>
<text x="56.2" y="346.58" font-size="10.5" text-anchor="end" transform="translate(56.2 342.8) scale(0.95 1) translate(-56.2 -342.8)" fill="#231f20">0</text>
<line x1="73.8" y1="283.2" x2="73.8" y2="279.6" stroke="#1200ff" stroke-width="1.2"/>
<line x1="71" y1="279.6" x2="76.6" y2="279.6" stroke="#1200ff" stroke-width="1.2"/>
<rect x="68.6" y="283.2" width="10.4" height="59.6" fill="#1200ff"/>
<line x1="89.45" y1="325.1" x2="89.45" y2="323.2" stroke="#ff1c10" stroke-width="1.2"/>
<line x1="86.65" y1="323.2" x2="92.25" y2="323.2" stroke="#ff1c10" stroke-width="1.2"/>
<rect x="84.2" y="325.1" width="10.5" height="17.7" fill="#ff1c10"/>
<line x1="105.35" y1="321.3" x2="105.35" y2="316.2" stroke="#bc934f" stroke-width="1.2"/>
<line x1="102.55" y1="316.2" x2="108.15" y2="316.2" stroke="#bc934f" stroke-width="1.2"/>
<rect x="100.1" y="321.3" width="10.5" height="21.5" fill="#bc934f"/>
<line x1="132.15" y1="257.8" x2="132.15" y2="252.9" stroke="#1200ff" stroke-width="1.2"/>
<line x1="129.35" y1="252.9" x2="134.95" y2="252.9" stroke="#1200ff" stroke-width="1.2"/>
<rect x="127" y="257.8" width="10.3" height="85" fill="#1200ff"/>
<line x1="147.85" y1="292.8" x2="147.85" y2="290.5" stroke="#ff1c10" stroke-width="1.2"/>
<line x1="145.05" y1="290.5" x2="150.65" y2="290.5" stroke="#ff1c10" stroke-width="1.2"/>
<rect x="142.6" y="292.8" width="10.5" height="50" fill="#ff1c10"/>
<line x1="163.65" y1="294.7" x2="163.65" y2="288.6" stroke="#bc934f" stroke-width="1.2"/>
<line x1="160.85" y1="288.6" x2="166.45" y2="288.6" stroke="#bc934f" stroke-width="1.2"/>
<rect x="158.3" y="294.7" width="10.7" height="48.1" fill="#bc934f"/>
<line x1="59.95" y1="342.8" x2="176.5" y2="342.8" stroke="#231f20" stroke-width="1.5"/>
<line x1="89.5" y1="342.8" x2="89.5" y2="345.8" stroke="#231f20" stroke-width="1.5"/>
<line x1="148" y1="342.8" x2="148" y2="345.8" stroke="#231f20" stroke-width="1.5"/>
<polyline points="74,272.2 74,265.5 90.8,265.5 90.8,289.7" fill="none" stroke="#555" stroke-width="1"/>
<polyline points="74,265.5 74,254.3 104.5,254.3 104.5,290.6" fill="none" stroke="#555" stroke-width="1"/>
<polyline points="132,244.5 132,238 147.2,238 147.2,262.6" fill="none" stroke="#555" stroke-width="1"/>
<polyline points="132,238 132,227.5 162.5,227.5 162.5,263" fill="none" stroke="#555" stroke-width="1"/>
<path d="M81.42 260.45L80.94 264.55M83.06 260.45L82.58 264.55M80.43 261.78L83.57 261.78M80.43 263.29L83.57 263.29" stroke="#1a1a1a" stroke-width="0.65" fill="none"/>
<path d="M89.92 249.45L89.44 253.55M91.56 249.45L91.08 253.55M88.93 250.78L92.07 250.78M88.93 252.29L92.07 252.29" stroke="#1a1a1a" stroke-width="0.65" fill="none"/>
<path d="M139.42 232.95L138.94 237.05M141.06 232.95L140.58 237.05M138.43 234.28L141.57 234.28M138.43 235.79L141.57 235.79" stroke="#1a1a1a" stroke-width="0.65" fill="none"/>
<path d="M147.42 222.45L146.94 226.55M149.06 222.45L148.58 226.55M146.43 223.78L149.57 223.78M146.43 225.29L149.57 225.29" stroke="#1a1a1a" stroke-width="0.65" fill="none"/>
<text x="32.5" y="286.32" font-size="10.6" text-anchor="middle" transform="translate(32.5 282.5) rotate(-90) translate(-32.5 -282.5)" fill="#231f20">ECAR (mpH/min/Norm. unit)</text>
<text x="103.8" y="351.66" font-size="11" text-anchor="end" transform="translate(103.8 347.7) rotate(-28) translate(-103.8 -347.7)" fill="#231f20">Glycolysis</text>
<text x="158.8" y="354.16" font-size="11" text-anchor="end" transform="translate(158.8 350.2) rotate(-28) translate(-158.8 -350.2)" fill="#231f20">Glycolysis</text>
<text x="166.5" y="367.46" font-size="11" text-anchor="end" transform="translate(166.5 363.5) rotate(-28) translate(-166.5 -363.5)" fill="#231f20">Capicity</text>
<text x="237.7" y="211.6" font-size="12" font-weight="bold" fill="#231f20">D</text>
<text x="342.5" y="217.06" font-size="11" text-anchor="middle" fill="#231f20">U87</text>
<line x1="293.1" y1="225.15" x2="293.1" y2="340.6" stroke="#231f20" stroke-width="1.5"/>
<line x1="290.1" y1="225.9" x2="293.1" y2="225.9" stroke="#231f20" stroke-width="1.5"/>
<text x="288.6" y="229.68" font-size="10.5" text-anchor="end" transform="translate(288.6 225.9) scale(0.95 1) translate(-288.6 -225.9)" fill="#231f20">100</text>
<line x1="290.1" y1="248.8" x2="293.1" y2="248.8" stroke="#231f20" stroke-width="1.5"/>
<text x="288.6" y="252.58" font-size="10.5" text-anchor="end" transform="translate(288.6 248.8) scale(0.95 1) translate(-288.6 -248.8)" fill="#231f20">80</text>
<line x1="290.1" y1="271.7" x2="293.1" y2="271.7" stroke="#231f20" stroke-width="1.5"/>
<text x="288.6" y="275.48" font-size="10.5" text-anchor="end" transform="translate(288.6 271.7) scale(0.95 1) translate(-288.6 -271.7)" fill="#231f20">60</text>
<line x1="290.1" y1="294.7" x2="293.1" y2="294.7" stroke="#231f20" stroke-width="1.5"/>
<text x="288.6" y="298.48" font-size="10.5" text-anchor="end" transform="translate(288.6 294.7) scale(0.95 1) translate(-288.6 -294.7)" fill="#231f20">40</text>
<line x1="290.1" y1="317.6" x2="293.1" y2="317.6" stroke="#231f20" stroke-width="1.5"/>
<text x="288.6" y="321.38" font-size="10.5" text-anchor="end" transform="translate(288.6 317.6) scale(0.95 1) translate(-288.6 -317.6)" fill="#231f20">20</text>
<line x1="290.1" y1="340.6" x2="293.1" y2="340.6" stroke="#231f20" stroke-width="1.5"/>
<text x="288.6" y="344.38" font-size="10.5" text-anchor="end" transform="translate(288.6 340.6) scale(0.95 1) translate(-288.6 -340.6)" fill="#231f20">0</text>
<line x1="306.65" y1="277.1" x2="306.65" y2="271.3" stroke="#1200ff" stroke-width="1.2"/>
<line x1="303.85" y1="271.3" x2="309.45" y2="271.3" stroke="#1200ff" stroke-width="1.2"/>
<rect x="301.5" y="277.1" width="10.3" height="63.5" fill="#1200ff"/>
<line x1="322.55" y1="317.4" x2="322.55" y2="311.1" stroke="#ff1c10" stroke-width="1.2"/>
<line x1="319.75" y1="311.1" x2="325.35" y2="311.1" stroke="#ff1c10" stroke-width="1.2"/>
<rect x="317.3" y="317.4" width="10.5" height="23.2" fill="#ff1c10"/>
<line x1="338.15" y1="317.8" x2="338.15" y2="313.4" stroke="#bc934f" stroke-width="1.2"/>
<line x1="335.35" y1="313.4" x2="340.95" y2="313.4" stroke="#bc934f" stroke-width="1.2"/>
<rect x="332.9" y="317.8" width="10.5" height="22.8" fill="#bc934f"/>
<line x1="364.55" y1="250.8" x2="364.55" y2="244.3" stroke="#1200ff" stroke-width="1.2"/>
<line x1="361.75" y1="244.3" x2="367.35" y2="244.3" stroke="#1200ff" stroke-width="1.2"/>
<rect x="359.3" y="250.8" width="10.5" height="89.8" fill="#1200ff"/>
<line x1="380.25" y1="297.5" x2="380.25" y2="289.3" stroke="#ff1c10" stroke-width="1.2"/>
<line x1="377.45" y1="289.3" x2="383.05" y2="289.3" stroke="#ff1c10" stroke-width="1.2"/>
<rect x="375" y="297.5" width="10.5" height="43.1" fill="#ff1c10"/>
<line x1="395.75" y1="284.7" x2="395.75" y2="279" stroke="#bc934f" stroke-width="1.2"/>
<line x1="392.95" y1="279" x2="398.55" y2="279" stroke="#bc934f" stroke-width="1.2"/>
<rect x="390.6" y="284.7" width="10.3" height="55.9" fill="#bc934f"/>
<line x1="292.35" y1="340.6" x2="408.8" y2="340.6" stroke="#231f20" stroke-width="1.5"/>
<line x1="322" y1="340.6" x2="322" y2="343.6" stroke="#231f20" stroke-width="1.5"/>
<line x1="379.8" y1="340.6" x2="379.8" y2="343.6" stroke="#231f20" stroke-width="1.5"/>
<polyline points="306.6,268.3 306.6,258.3 321.7,258.3 321.7,268.3" fill="none" stroke="#555" stroke-width="1"/>
<polyline points="306.6,258.3 306.6,247.8 338,247.8 338,264.8" fill="none" stroke="#555" stroke-width="1"/>
<polyline points="364.6,240.3 364.6,235 380.4,235 380.4,241.7" fill="none" stroke="#555" stroke-width="1"/>
<polyline points="364.6,235 364.6,224.5 395.6,224.5 395.6,240" fill="none" stroke="#555" stroke-width="1"/>
<path d="M313.72 253.45L313.24 257.55M315.36 253.45L314.88 257.55M312.73 254.78L315.87 254.78M312.73 256.29L315.87 256.29" stroke="#1a1a1a" stroke-width="0.65" fill="none"/>
<path d="M322.02 242.95L321.54 247.05M323.66 242.95L323.18 247.05M321.03 244.28L324.17 244.28M321.03 245.79L324.17 245.79" stroke="#1a1a1a" stroke-width="0.65" fill="none"/>
<path d="M371.92 229.95L371.44 234.05M373.56 229.95L373.08 234.05M370.93 231.28L374.07 231.28M370.93 232.79L374.07 232.79" stroke="#1a1a1a" stroke-width="0.65" fill="none"/>
<path d="M379.82 219.45L379.34 223.55M381.46 219.45L380.98 223.55M378.83 220.78L381.97 220.78M378.83 222.29L381.97 222.29" stroke="#1a1a1a" stroke-width="0.65" fill="none"/>
<text x="266.8" y="286.78" font-size="10.5" text-anchor="middle" transform="translate(266.8 283) rotate(-90) translate(-266.8 -283)" fill="#231f20">ECAR (mpH/min/Norm. unit)</text>
<text x="335.8" y="349.66" font-size="11" text-anchor="end" transform="translate(335.8 345.7) rotate(-28) translate(-335.8 -345.7)" fill="#231f20">Glycolysis</text>
<text x="391.5" y="353.46" font-size="11" text-anchor="end" transform="translate(391.5 349.5) rotate(-28) translate(-391.5 -349.5)" fill="#231f20">Glycolysis</text>
<text x="399.5" y="366.46" font-size="11" text-anchor="end" transform="translate(399.5 362.5) rotate(-28) translate(-399.5 -362.5)" fill="#231f20">Capicity</text>
<rect x="422.6" y="243.3" width="12.5" height="7.9" fill="#1200ff"/>
<rect x="422.6" y="255.9" width="12.5" height="7.9" fill="#ff1c10"/>
<rect x="422.6" y="269" width="12.5" height="7.9" fill="#bc934f"/>
<text x="441.5" y="250.98" font-size="10.5" fill="#231f20">NC</text>
<text x="441.5" y="263.78" font-size="10.5" fill="#231f20"><tspan font-style="italic">AKR1B1</tspan>-KO</text>
<text x="441.5" y="276.38" font-size="10.5" fill="#231f20"><tspan font-style="italic">HK1/2</tspan>-KO</text>
<text x="520.3" y="68.6" font-size="12" font-weight="bold" fill="#231f20">E</text>
<linearGradient id="g464" x1="0" y1="0" x2="1" y2="0"><stop offset="0" stop-color="#e0e0e0"/><stop offset="1" stop-color="#d8d8d8"/></linearGradient>
<rect x="572.6" y="99.6" width="85.7" height="20.1" fill="url(#g464)"/>
<rect x="584.8" y="111.6" width="18.6" height="4.9" rx="2" fill="#000" opacity="0.45" filter="url(#bl2)"/>
<rect x="583.8" y="106.6" width="20.6" height="7" rx="3" fill="#050505" filter="url(#bl1)"/>
<rect x="627.2" y="111.6" width="17.8" height="4.9" rx="2" fill="#000" opacity="0.45" filter="url(#bl2)"/>
<rect x="626.2" y="106.6" width="19.8" height="7" rx="3" fill="#050505" filter="url(#bl1)"/>
<rect x="572.6" y="99.6" width="85.7" height="20.1" fill="none" stroke="#3a3a3a" stroke-width="1.2"/>
<linearGradient id="g471" x1="0" y1="0" x2="1" y2="0"><stop offset="0" stop-color="#e6e6e6"/><stop offset="1" stop-color="#dedede"/></linearGradient>
<rect x="572.6" y="125.5" width="85.7" height="20.1" fill="url(#g471)"/>
<rect x="586.1" y="138.5" width="17.3" height="5" rx="2" fill="#000" opacity="0.45" filter="url(#bl2)"/>
<rect x="585.1" y="133" width="19.3" height="7.5" rx="3" fill="#050505" filter="url(#bl1)"/>
<rect x="606.5" y="140.3" width="18.3" height="3.2" rx="2" fill="#000" opacity="0.45" filter="url(#bl2)"/>
<rect x="605.5" y="133" width="20.3" height="9.3" rx="3" fill="#050505" filter="url(#bl1)"/>
<rect x="628.2" y="139" width="17" height="4.5" rx="2" fill="#000" opacity="0.45" filter="url(#bl2)"/>
<rect x="627.2" y="133.5" width="19" height="7.5" rx="3" fill="#050505" filter="url(#bl1)"/>
<rect x="572.6" y="125.5" width="85.7" height="20.1" fill="none" stroke="#3a3a3a" stroke-width="1.2"/>
<text x="569.7" y="113.79" font-size="10.8" text-anchor="end" fill="#231f20">AKR1B1</text>
<text x="569.7" y="138.39" font-size="10.8" text-anchor="end" fill="#231f20">β-actin</text>
<text x="590.2" y="96.3" font-size="10.9" transform="translate(590.2 96.3) rotate(-37.5) translate(-590.2 -96.3)" fill="#231f20">A549 NC</text>
<text x="615" y="97.8" font-size="10.9" transform="translate(615 97.8) rotate(-37.5) translate(-615 -97.8)" fill="#231f20">AKR1B1-KO</text>
<text x="639.3" y="96.8" font-size="10.9" transform="translate(639.3 96.8) rotate(-37.5) translate(-639.3 -96.8)" fill="#231f20">HK1/2-KO</text>
<linearGradient id="g485" x1="0" y1="0" x2="1" y2="0"><stop offset="0" stop-color="#eeeeee"/><stop offset="1" stop-color="#e6e6e6"/></linearGradient>
<rect x="575.1" y="237.3" width="88.7" height="22.5" fill="url(#g485)"/>
<rect x="586.3" y="252.6" width="17.6" height="4.4" rx="2" fill="#000" opacity="0.45" filter="url(#bl2)"/>
<rect x="585.3" y="243.7" width="19.6" height="10.9" rx="3" fill="#050505" filter="url(#bl1)"/>
<rect x="637.5" y="253.8" width="18.3" height="4.2" rx="2" fill="#000" opacity="0.45" filter="url(#bl2)"/>
<rect x="636.5" y="244.4" width="20.3" height="11.4" rx="3" fill="#050505" filter="url(#bl1)"/>
<rect x="575.1" y="237.3" width="88.7" height="22.5" fill="none" stroke="#3a3a3a" stroke-width="1.2"/>
<linearGradient id="g492" x1="0" y1="0" x2="1" y2="0"><stop offset="0" stop-color="#ececec"/><stop offset="1" stop-color="#e2e2e2"/></linearGradient>
<rect x="575.1" y="264.5" width="88.7" height="27.1" fill="url(#g492)"/>
<rect x="584.2" y="279" width="18.8" height="5" rx="2" fill="#000" opacity="0.45" filter="url(#bl2)"/>
<rect x="583.2" y="272.2" width="20.8" height="8.8" rx="3" fill="#050505" filter="url(#bl1)"/>
<rect x="609.7" y="279" width="18.8" height="5" rx="2" fill="#000" opacity="0.45" filter="url(#bl2)"/>
<rect x="608.7" y="272.2" width="20.8" height="8.8" rx="3" fill="#050505" filter="url(#bl1)"/>
<rect x="635.4" y="279.3" width="19.4" height="4.7" rx="2" fill="#000" opacity="0.45" filter="url(#bl2)"/>
<rect x="634.4" y="272.5" width="21.4" height="8.8" rx="3" fill="#050505" filter="url(#bl1)"/>
<rect x="575.1" y="264.5" width="88.7" height="27.1" fill="none" stroke="#3a3a3a" stroke-width="1.2"/>
<text x="572.4" y="253.19" font-size="10.8" text-anchor="end" fill="#231f20">AKR1B1</text>
<text x="572.4" y="279.59" font-size="10.8" text-anchor="end" fill="#231f20">β-actin</text>
<text x="589.8" y="236.6" font-size="11.4" transform="translate(589.8 236.6) rotate(-38) translate(-589.8 -236.6)" fill="#231f20">U87 NC</text>
<text x="618.6" y="235" font-size="11.4" transform="translate(618.6 235) rotate(-38) translate(-618.6 -235)" fill="#231f20">AKR1B1-KO</text>
<text x="645.6" y="234" font-size="11.4" transform="translate(645.6 234) rotate(-38) translate(-645.6 -234)" fill="#231f20">HK1/2-KO</text>
<text x="37.5" y="419.7" font-size="12" font-weight="bold" fill="#231f20">F</text>
<text x="158" y="436.23" font-size="11.2" fill="#231f20"><tspan font-size="6.72" dy="-4">13</tspan><tspan dy="4">C</tspan><tspan font-size="6.72" dy="2">3</tspan><tspan dy="-2">-lactate (A549)</tspan></text>
<line x1="106.6" y1="451.35" x2="106.6" y2="584.2" stroke="#231f20" stroke-width="1.5"/>
<line x1="103.1" y1="452.1" x2="106.6" y2="452.1" stroke="#231f20" stroke-width="1.5"/>
<text x="101.6" y="455.99" font-size="10.8" text-anchor="end" fill="#231f20">30000</text>
<line x1="103.1" y1="496.1" x2="106.6" y2="496.1" stroke="#231f20" stroke-width="1.5"/>
<text x="101.6" y="499.99" font-size="10.8" text-anchor="end" fill="#231f20">20000</text>
<line x1="103.1" y1="540.1" x2="106.6" y2="540.1" stroke="#231f20" stroke-width="1.5"/>
<text x="101.6" y="543.99" font-size="10.8" text-anchor="end" fill="#231f20">10000</text>
<line x1="103.1" y1="584.2" x2="106.6" y2="584.2" stroke="#231f20" stroke-width="1.5"/>
<text x="101.6" y="588.09" font-size="10.8" text-anchor="end" fill="#231f20">0</text>
<rect x="133.05" y="568.5" width="11.3" height="15.7" fill="#fff" stroke="#333" stroke-width="1.05"/>
<rect x="150.55" y="540.8" width="11.3" height="43.4" fill="#fff" stroke="#333" stroke-width="1.05"/>
<rect x="168.05" y="528.5" width="11.3" height="55.7" fill="#fff" stroke="#333" stroke-width="1.05"/>
<rect x="185.55" y="502.4" width="11.3" height="81.8" fill="#fff" stroke="#333" stroke-width="1.05"/>
<line x1="138.7" y1="565.3" x2="138.7" y2="571.5" stroke="#1200ff" stroke-width="1"/>
<line x1="135.7" y1="565.3" x2="141.7" y2="565.3" stroke="#1200ff" stroke-width="1"/>
<line x1="135.7" y1="571.5" x2="141.7" y2="571.5" stroke="#1200ff" stroke-width="1"/>
<line x1="156.2" y1="537.8" x2="156.2" y2="543.8" stroke="#1200ff" stroke-width="1"/>
<line x1="153.2" y1="537.8" x2="159.2" y2="537.8" stroke="#1200ff" stroke-width="1"/>
<line x1="153.2" y1="543.8" x2="159.2" y2="543.8" stroke="#1200ff" stroke-width="1"/>
<line x1="173.7" y1="526.5" x2="173.7" y2="530.5" stroke="#1200ff" stroke-width="1"/>
<line x1="170.7" y1="526.5" x2="176.7" y2="526.5" stroke="#1200ff" stroke-width="1"/>
<line x1="170.7" y1="530.5" x2="176.7" y2="530.5" stroke="#1200ff" stroke-width="1"/>
<line x1="191.2" y1="481.4" x2="191.2" y2="522.9" stroke="#1200ff" stroke-width="1"/>
<line x1="188.2" y1="481.4" x2="194.2" y2="481.4" stroke="#1200ff" stroke-width="1"/>
<line x1="188.2" y1="522.9" x2="194.2" y2="522.9" stroke="#1200ff" stroke-width="1"/>
<circle cx="116.6" cy="584" r="1.7" fill="#1200ff"/>
<circle cx="121.2" cy="584" r="1.7" fill="#1200ff"/>
<circle cx="125.9" cy="584" r="1.7" fill="#1200ff"/>
<circle cx="139" cy="562.9" r="1.7" fill="#1200ff"/>
<circle cx="139" cy="569.5" r="1.7" fill="#1200ff"/>
<circle cx="139" cy="573.4" r="1.7" fill="#1200ff"/>
<circle cx="154" cy="538.3" r="1.7" fill="#1200ff"/>
<circle cx="158.9" cy="538.3" r="1.7" fill="#1200ff"/>
<circle cx="156" cy="544.3" r="1.7" fill="#1200ff"/>
<circle cx="170.9" cy="527" r="1.7" fill="#1200ff"/>
<circle cx="176.2" cy="527" r="1.7" fill="#1200ff"/>
<circle cx="173.6" cy="531.2" r="1.7" fill="#1200ff"/>
<circle cx="191.2" cy="463.3" r="1.7" fill="#1200ff"/>
<circle cx="191.2" cy="510.3" r="1.7" fill="#1200ff"/>
<circle cx="191.2" cy="533.4" r="1.7" fill="#1200ff"/>
<rect x="232.05" y="577.2" width="11.3" height="7" fill="#fff" stroke="#333" stroke-width="1.05"/>
<rect x="249.55" y="564.4" width="11.3" height="19.8" fill="#fff" stroke="#333" stroke-width="1.05"/>
<rect x="267.05" y="544.3" width="11.3" height="39.9" fill="#fff" stroke="#333" stroke-width="1.05"/>
<rect x="284.55" y="545.3" width="11.3" height="38.9" fill="#fff" stroke="#333" stroke-width="1.05"/>
<line x1="237.7" y1="574.3" x2="237.7" y2="580" stroke="#ff1c10" stroke-width="1"/>
<line x1="234.7" y1="574.3" x2="240.7" y2="574.3" stroke="#ff1c10" stroke-width="1"/>
<line x1="234.7" y1="580" x2="240.7" y2="580" stroke="#ff1c10" stroke-width="1"/>
<line x1="255.2" y1="556.2" x2="255.2" y2="572" stroke="#ff1c10" stroke-width="1"/>
<line x1="252.2" y1="556.2" x2="258.2" y2="556.2" stroke="#ff1c10" stroke-width="1"/>
<line x1="252.2" y1="572" x2="258.2" y2="572" stroke="#ff1c10" stroke-width="1"/>
<line x1="272.7" y1="535.7" x2="272.7" y2="551.8" stroke="#ff1c10" stroke-width="1"/>
<line x1="269.7" y1="535.7" x2="275.7" y2="535.7" stroke="#ff1c10" stroke-width="1"/>
<line x1="269.7" y1="551.8" x2="275.7" y2="551.8" stroke="#ff1c10" stroke-width="1"/>
<line x1="290.2" y1="537.3" x2="290.2" y2="552.7" stroke="#ff1c10" stroke-width="1"/>
<line x1="287.2" y1="537.3" x2="293.2" y2="537.3" stroke="#ff1c10" stroke-width="1"/>
<line x1="287.2" y1="552.7" x2="293.2" y2="552.7" stroke="#ff1c10" stroke-width="1"/>
<circle cx="215.9" cy="584" r="1.7" fill="#ff1c10"/>
<circle cx="220.1" cy="584" r="1.7" fill="#ff1c10"/>
<circle cx="225" cy="584" r="1.7" fill="#ff1c10"/>
<circle cx="237.7" cy="572.9" r="1.7" fill="#ff1c10"/>
<circle cx="237.7" cy="576.9" r="1.7" fill="#ff1c10"/>
<circle cx="237.7" cy="580.7" r="1.7" fill="#ff1c10"/>
<circle cx="255.2" cy="555" r="1.7" fill="#ff1c10"/>
<circle cx="255.2" cy="557.6" r="1.7" fill="#ff1c10"/>
<circle cx="255.2" cy="580.2" r="1.7" fill="#ff1c10"/>
<circle cx="272.7" cy="528.5" r="1.7" fill="#ff1c10"/>
<circle cx="272.7" cy="547.1" r="1.7" fill="#ff1c10"/>
<circle cx="272.7" cy="555.9" r="1.7" fill="#ff1c10"/>
<circle cx="290.2" cy="534.3" r="1.7" fill="#ff1c10"/>
<circle cx="290.2" cy="540.4" r="1.7" fill="#ff1c10"/>
<circle cx="290.2" cy="560.6" r="1.7" fill="#ff1c10"/>
<line x1="105.85" y1="584.2" x2="305.6" y2="584.2" stroke="#231f20" stroke-width="1.5"/>
<line x1="121.2" y1="584.2" x2="121.2" y2="587.2" stroke="#231f20" stroke-width="1.5"/>
<text x="121.2" y="599.56" font-size="11" text-anchor="middle" fill="#231f20">0</text>
<line x1="138.7" y1="584.2" x2="138.7" y2="587.2" stroke="#231f20" stroke-width="1.5"/>
<text x="138.7" y="599.56" font-size="11" text-anchor="middle" fill="#231f20">1</text>
<line x1="156.2" y1="584.2" x2="156.2" y2="587.2" stroke="#231f20" stroke-width="1.5"/>
<text x="156.2" y="599.56" font-size="11" text-anchor="middle" fill="#231f20">5</text>
<line x1="173.7" y1="584.2" x2="173.7" y2="587.2" stroke="#231f20" stroke-width="1.5"/>
<text x="173.7" y="599.56" font-size="11" text-anchor="middle" fill="#231f20">10</text>
<line x1="191.2" y1="584.2" x2="191.2" y2="587.2" stroke="#231f20" stroke-width="1.5"/>
<text x="191.2" y="599.56" font-size="11" text-anchor="middle" fill="#231f20">25</text>
<line x1="220.1" y1="584.2" x2="220.1" y2="587.2" stroke="#231f20" stroke-width="1.5"/>
<text x="220.1" y="599.56" font-size="11" text-anchor="middle" fill="#231f20">0</text>
<line x1="237.7" y1="584.2" x2="237.7" y2="587.2" stroke="#231f20" stroke-width="1.5"/>
<text x="237.7" y="599.56" font-size="11" text-anchor="middle" fill="#231f20">1</text>
<line x1="255.2" y1="584.2" x2="255.2" y2="587.2" stroke="#231f20" stroke-width="1.5"/>
<text x="255.2" y="599.56" font-size="11" text-anchor="middle" fill="#231f20">5</text>
<line x1="272.7" y1="584.2" x2="272.7" y2="587.2" stroke="#231f20" stroke-width="1.5"/>
<text x="272.7" y="599.56" font-size="11" text-anchor="middle" fill="#231f20">10</text>
<line x1="290.2" y1="584.2" x2="290.2" y2="587.2" stroke="#231f20" stroke-width="1.5"/>
<text x="290.2" y="599.56" font-size="11" text-anchor="middle" fill="#231f20">25</text>
<polygon points="113.7,608.2 198.3,600.1 198.3,608.2" fill="#edc6a6"/>
<polygon points="214,608.2 297.5,600.2 297.5,608.2" fill="#edc6a6"/>
<text x="158.6" y="624.13" font-size="11.2" fill="#231f20"><tspan font-size="6.72" dy="-4">13</tspan><tspan dy="4">C</tspan><tspan font-size="6.72" dy="2">6</tspan><tspan dy="-2">-glucose (mM)</tspan></text>
<circle cx="264" cy="467" r="1.6" fill="#1200ff"/>
<polygon points="264.5,482.2 262.85,485.2 266.15,485.2" fill="#ff1c10"/>
<text x="279" y="470.78" font-size="10.5" fill="#231f20">NC</text>
<text x="279.3" y="487.78" font-size="10.5" fill="#231f20"><tspan font-style="italic">AKR1B</tspan>-KO</text>
<text x="60.5" y="517.76" font-size="11" text-anchor="middle" transform="rotate(-90 60.5 513.8)" fill="#231f20">Concentration (pmol/10<tspan font-size="6.6" dy="-4">6</tspan><tspan dy="4"> cells)</tspan></text>
<text x="363.1" y="419.7" font-size="12" font-weight="bold" fill="#231f20">G</text>
<text x="492.8" y="435.73" font-size="11.2" fill="#231f20"><tspan font-size="6.72" dy="-4">13</tspan><tspan dy="4">C</tspan><tspan font-size="6.72" dy="2">3</tspan><tspan dy="-2">-lactate (U87)</tspan></text>
<line x1="436.5" y1="452.35" x2="436.5" y2="585.5" stroke="#231f20" stroke-width="1.5"/>
<line x1="433" y1="453.1" x2="436.5" y2="453.1" stroke="#231f20" stroke-width="1.5"/>
<text x="431.5" y="456.99" font-size="10.8" text-anchor="end" fill="#231f20">20000</text>
<line x1="433" y1="486.5" x2="436.5" y2="486.5" stroke="#231f20" stroke-width="1.5"/>
<text x="431.5" y="490.39" font-size="10.8" text-anchor="end" fill="#231f20">15000</text>
<line x1="433" y1="519.5" x2="436.5" y2="519.5" stroke="#231f20" stroke-width="1.5"/>
<text x="431.5" y="523.39" font-size="10.8" text-anchor="end" fill="#231f20">10000</text>
<line x1="433" y1="552.4" x2="436.5" y2="552.4" stroke="#231f20" stroke-width="1.5"/>
<text x="431.5" y="556.29" font-size="10.8" text-anchor="end" fill="#231f20">5000</text>
<line x1="433" y1="585.5" x2="436.5" y2="585.5" stroke="#231f20" stroke-width="1.5"/>
<text x="431.5" y="589.39" font-size="10.8" text-anchor="end" fill="#231f20">0</text>
<rect x="462.55" y="576.9" width="11.3" height="8.6" fill="#fff" stroke="#333" stroke-width="1.05"/>
<rect x="480.05" y="558.5" width="11.3" height="27" fill="#fff" stroke="#333" stroke-width="1.05"/>
<rect x="497.55" y="541.8" width="11.3" height="43.7" fill="#fff" stroke="#333" stroke-width="1.05"/>
<rect x="515.15" y="481.4" width="11.3" height="104.1" fill="#fff" stroke="#333" stroke-width="1.05"/>
<line x1="485.7" y1="554.5" x2="485.7" y2="562.3" stroke="#1200ff" stroke-width="1"/>
<line x1="482.7" y1="554.5" x2="488.7" y2="554.5" stroke="#1200ff" stroke-width="1"/>
<line x1="482.7" y1="562.3" x2="488.7" y2="562.3" stroke="#1200ff" stroke-width="1"/>
<line x1="503.2" y1="536.4" x2="503.2" y2="546.6" stroke="#1200ff" stroke-width="1"/>
<line x1="500.2" y1="536.4" x2="506.2" y2="536.4" stroke="#1200ff" stroke-width="1"/>
<line x1="500.2" y1="546.6" x2="506.2" y2="546.6" stroke="#1200ff" stroke-width="1"/>
<line x1="520.8" y1="475.6" x2="520.8" y2="487" stroke="#1200ff" stroke-width="1"/>
<line x1="517.8" y1="475.6" x2="523.8" y2="475.6" stroke="#1200ff" stroke-width="1"/>
<line x1="517.8" y1="487" x2="523.8" y2="487" stroke="#1200ff" stroke-width="1"/>
<circle cx="446.2" cy="585.5" r="1.7" fill="#1200ff"/>
<circle cx="450.7" cy="585.5" r="1.7" fill="#1200ff"/>
<circle cx="455.2" cy="585.5" r="1.7" fill="#1200ff"/>
<circle cx="463.8" cy="578.1" r="1.7" fill="#1200ff"/>
<circle cx="468.2" cy="576" r="1.7" fill="#1200ff"/>
<circle cx="472.6" cy="576" r="1.7" fill="#1200ff"/>
<circle cx="485.7" cy="551.5" r="1.7" fill="#1200ff"/>
<circle cx="485.7" cy="558" r="1.7" fill="#1200ff"/>
<circle cx="485.7" cy="565" r="1.7" fill="#1200ff"/>
<circle cx="503.2" cy="532.2" r="1.7" fill="#1200ff"/>
<circle cx="503.2" cy="542.7" r="1.7" fill="#1200ff"/>
<circle cx="503.2" cy="549.7" r="1.7" fill="#1200ff"/>
<circle cx="520.9" cy="469.8" r="1.7" fill="#1200ff"/>
<circle cx="518.5" cy="487" r="1.7" fill="#1200ff"/>
<circle cx="523.7" cy="487" r="1.7" fill="#1200ff"/>
<rect x="561.65" y="580.2" width="11.3" height="5.3" fill="#fff" stroke="#333" stroke-width="1.05"/>
<rect x="579.15" y="576.2" width="11.3" height="9.3" fill="#fff" stroke="#333" stroke-width="1.05"/>
<rect x="596.65" y="558.7" width="11.3" height="26.8" fill="#fff" stroke="#333" stroke-width="1.05"/>
<rect x="614.25" y="559.2" width="11.3" height="26.3" fill="#fff" stroke="#333" stroke-width="1.05"/>
<line x1="584.8" y1="574" x2="584.8" y2="578" stroke="#ff1c10" stroke-width="1"/>
<line x1="581.8" y1="574" x2="587.8" y2="574" stroke="#ff1c10" stroke-width="1"/>
<line x1="581.8" y1="578" x2="587.8" y2="578" stroke="#ff1c10" stroke-width="1"/>
<line x1="602.3" y1="554.3" x2="602.3" y2="563.1" stroke="#ff1c10" stroke-width="1"/>
<line x1="599.3" y1="554.3" x2="605.3" y2="554.3" stroke="#ff1c10" stroke-width="1"/>
<line x1="599.3" y1="563.1" x2="605.3" y2="563.1" stroke="#ff1c10" stroke-width="1"/>
<line x1="619.9" y1="556.4" x2="619.9" y2="561.7" stroke="#ff1c10" stroke-width="1"/>
<line x1="616.9" y1="556.4" x2="622.9" y2="556.4" stroke="#ff1c10" stroke-width="1"/>
<line x1="616.9" y1="561.7" x2="622.9" y2="561.7" stroke="#ff1c10" stroke-width="1"/>
<polygon points="545.5,582.96 543.63,586.36 547.37,586.36" fill="#ff1c10"/>
<polygon points="549.8,582.96 547.93,586.36 551.67,586.36" fill="#ff1c10"/>
<polygon points="554,582.96 552.13,586.36 555.87,586.36" fill="#ff1c10"/>
<polygon points="563,578.46 561.13,581.86 564.87,581.86" fill="#ff1c10"/>
<polygon points="567.3,577.46 565.43,580.86 569.17,580.86" fill="#ff1c10"/>
<polygon points="571.5,578.46 569.63,581.86 573.37,581.86" fill="#ff1c10"/>
<polygon points="584.8,571.46 582.93,574.86 586.67,574.86" fill="#ff1c10"/>
<polygon points="582,575.46 580.13,578.86 583.87,578.86" fill="#ff1c10"/>
<polygon points="587.5,575.46 585.63,578.86 589.37,578.86" fill="#ff1c10"/>
<polygon points="599.7,551.36 597.83,554.76 601.57,554.76" fill="#ff1c10"/>
<polygon points="605,553.66 603.13,557.06 606.87,557.06" fill="#ff1c10"/>
<polygon points="602.3,564.56 600.43,567.96 604.17,567.96" fill="#ff1c10"/>
<polygon points="619.9,551.36 618.03,554.76 621.77,554.76" fill="#ff1c10"/>
<polygon points="617.2,560.16 615.33,563.56 619.07,563.56" fill="#ff1c10"/>
<polygon points="622.5,560.16 620.63,563.56 624.37,563.56" fill="#ff1c10"/>
<line x1="435.75" y1="585.5" x2="634.8" y2="585.5" stroke="#231f20" stroke-width="1.5"/>
<line x1="450.7" y1="585.5" x2="450.7" y2="588.5" stroke="#231f20" stroke-width="1.5"/>
<text x="450.7" y="600.86" font-size="11" text-anchor="middle" fill="#231f20">0</text>
<line x1="468.2" y1="585.5" x2="468.2" y2="588.5" stroke="#231f20" stroke-width="1.5"/>
<text x="468.2" y="600.86" font-size="11" text-anchor="middle" fill="#231f20">1</text>
<line x1="485.7" y1="585.5" x2="485.7" y2="588.5" stroke="#231f20" stroke-width="1.5"/>
<text x="485.7" y="600.86" font-size="11" text-anchor="middle" fill="#231f20">5</text>
<line x1="503.2" y1="585.5" x2="503.2" y2="588.5" stroke="#231f20" stroke-width="1.5"/>
<text x="503.2" y="600.86" font-size="11" text-anchor="middle" fill="#231f20">10</text>
<line x1="520.8" y1="585.5" x2="520.8" y2="588.5" stroke="#231f20" stroke-width="1.5"/>
<text x="520.8" y="600.86" font-size="11" text-anchor="middle" fill="#231f20">25</text>
<line x1="549.8" y1="585.5" x2="549.8" y2="588.5" stroke="#231f20" stroke-width="1.5"/>
<text x="549.8" y="600.86" font-size="11" text-anchor="middle" fill="#231f20">0</text>
<line x1="567.3" y1="585.5" x2="567.3" y2="588.5" stroke="#231f20" stroke-width="1.5"/>
<text x="567.3" y="600.86" font-size="11" text-anchor="middle" fill="#231f20">1</text>
<line x1="584.8" y1="585.5" x2="584.8" y2="588.5" stroke="#231f20" stroke-width="1.5"/>
<text x="584.8" y="600.86" font-size="11" text-anchor="middle" fill="#231f20">5</text>
<line x1="602.3" y1="585.5" x2="602.3" y2="588.5" stroke="#231f20" stroke-width="1.5"/>
<text x="602.3" y="600.86" font-size="11" text-anchor="middle" fill="#231f20">10</text>
<line x1="619.9" y1="585.5" x2="619.9" y2="588.5" stroke="#231f20" stroke-width="1.5"/>
<text x="619.9" y="600.86" font-size="11" text-anchor="middle" fill="#231f20">25</text>
<polygon points="443.2,609.2 527.9,601.4 527.9,609.2" fill="#edc6a6"/>
<polygon points="542.5,609.4 627.7,601.4 627.7,609.4" fill="#edc6a6"/>
<text x="491.5" y="622.53" font-size="11.2" fill="#231f20"><tspan font-size="6.72" dy="-4">13</tspan><tspan dy="4">C</tspan><tspan font-size="6.72" dy="2">6</tspan><tspan dy="-2">-glucose (mM)</tspan></text>
<circle cx="555.9" cy="466.3" r="1.6" fill="#1200ff"/>
<polygon points="555.9,480.8 554.25,483.8 557.55,483.8" fill="#ff1c10"/>
<text x="571.1" y="470.08" font-size="10.5" fill="#231f20">NC</text>
<text x="571.1" y="486.38" font-size="10.5" fill="#231f20"><tspan font-style="italic">AKR1B</tspan>-KO</text>
<text x="391.8" y="523.16" font-size="11" text-anchor="middle" transform="rotate(-90 391.8 519.2)" fill="#231f20">Concentration (pmol/10<tspan font-size="6.6" dy="-4">6</tspan><tspan dy="4"> cells)</tspan></text>
<text x="38.5" y="661.3" font-size="12" font-weight="bold" fill="#231f20">H</text>
<text x="205.5" y="673.96" font-size="11" text-anchor="middle" fill="#231f20">A549</text>
<line x1="105" y1="684.75" x2="105" y2="822" stroke="#231f20" stroke-width="1.5"/>
<line x1="99.5" y1="685.5" x2="105" y2="685.5" stroke="#231f20" stroke-width="1.5"/>
<text x="98" y="689.28" font-size="10.5" text-anchor="end" transform="translate(98 685.5) scale(0.96 1) translate(-98 -685.5)" fill="#231f20">1500</text>
<line x1="99.5" y1="731" x2="105" y2="731" stroke="#231f20" stroke-width="1.5"/>
<text x="98" y="734.78" font-size="10.5" text-anchor="end" transform="translate(98 731) scale(0.96 1) translate(-98 -731)" fill="#231f20">1000</text>
<line x1="99.5" y1="776.5" x2="105" y2="776.5" stroke="#231f20" stroke-width="1.5"/>
<text x="98" y="780.28" font-size="10.5" text-anchor="end" transform="translate(98 776.5) scale(0.96 1) translate(-98 -776.5)" fill="#231f20">500</text>
<line x1="99.5" y1="822" x2="105" y2="822" stroke="#231f20" stroke-width="1.5"/>
<text x="98" y="825.78" font-size="10.5" text-anchor="end" transform="translate(98 822) scale(0.96 1) translate(-98 -822)" fill="#231f20">0</text>
<line x1="104.25" y1="822" x2="310.6" y2="822" stroke="#231f20" stroke-width="1.5"/>
<line x1="130.3" y1="822" x2="130.3" y2="826" stroke="#231f20" stroke-width="1.5"/>
<text x="130.3" y="839.28" font-size="10.5" text-anchor="middle" transform="translate(130.3 835.5) scale(0.96 1) translate(-130.3 -835.5)" fill="#231f20">0</text>
<line x1="168.9" y1="822" x2="168.9" y2="826" stroke="#231f20" stroke-width="1.5"/>
<text x="168.9" y="839.28" font-size="10.5" text-anchor="middle" transform="translate(168.9 835.5) scale(0.96 1) translate(-168.9 -835.5)" fill="#231f20">1</text>
<line x1="207.4" y1="822" x2="207.4" y2="826" stroke="#231f20" stroke-width="1.5"/>
<text x="207.4" y="839.28" font-size="10.5" text-anchor="middle" transform="translate(207.4 835.5) scale(0.96 1) translate(-207.4 -835.5)" fill="#231f20">2</text>
<line x1="245.9" y1="822" x2="245.9" y2="826" stroke="#231f20" stroke-width="1.5"/>
<text x="245.9" y="839.28" font-size="10.5" text-anchor="middle" transform="translate(245.9 835.5) scale(0.96 1) translate(-245.9 -835.5)" fill="#231f20">4</text>
<line x1="284.4" y1="822" x2="284.4" y2="826" stroke="#231f20" stroke-width="1.5"/>
<text x="284.4" y="839.28" font-size="10.5" text-anchor="middle" transform="translate(284.4 835.5) scale(0.96 1) translate(-284.4 -835.5)" fill="#231f20">8</text>
<text x="207.5" y="855.46" font-size="11" text-anchor="middle" fill="#231f20">Time (h)</text>
<line x1="284.4" y1="709.6" x2="284.4" y2="740.8" stroke="#ff1c10" stroke-width="0.85"/>
<line x1="281.4" y1="709.6" x2="287.4" y2="709.6" stroke="#ff1c10" stroke-width="0.85"/>
<line x1="281.4" y1="740.8" x2="287.4" y2="740.8" stroke="#ff1c10" stroke-width="0.85"/>
<polyline points="130.3,820.6 168.9,793.7 207.4,805.5 245.9,799.4 284.4,725.2" fill="none" stroke="#ff1c10" stroke-width="1.5"/>
<circle cx="130.3" cy="820.6" r="3" fill="#ff1c10"/>
<circle cx="168.9" cy="793.7" r="3" fill="#ff1c10"/>
<circle cx="207.4" cy="805.5" r="3" fill="#ff1c10"/>
<circle cx="245.9" cy="799.4" r="3" fill="#ff1c10"/>
<circle cx="284.4" cy="725.2" r="3" fill="#ff1c10"/>
<line x1="284.4" y1="791.9" x2="284.4" y2="800.9" stroke="#1200ff" stroke-width="0.85"/>
<line x1="281.4" y1="791.9" x2="287.4" y2="791.9" stroke="#1200ff" stroke-width="0.85"/>
<line x1="281.4" y1="800.9" x2="287.4" y2="800.9" stroke="#1200ff" stroke-width="0.85"/>
<polyline points="130.3,820.6 168.9,811.2 207.4,807.8 245.9,805.8 284.4,796.4" fill="none" stroke="#1200ff" stroke-width="1.5"/>
<circle cx="130.3" cy="820.6" r="3" fill="#1200ff"/>
<circle cx="168.9" cy="811.2" r="3" fill="#1200ff"/>
<circle cx="207.4" cy="807.8" r="3" fill="#1200ff"/>
<circle cx="245.9" cy="805.8" r="3" fill="#1200ff"/>
<circle cx="284.4" cy="796.4" r="3" fill="#1200ff"/>
<path d="M168.05 781.6L167.35 787.6M170.45 781.6L169.75 787.6M166.6 783.55L171.2 783.55M166.6 785.75L171.2 785.75" stroke="#1a1a1a" stroke-width="0.95" fill="none"/>
<path d="M245.05 787.8L244.35 793.8M247.45 787.8L246.75 793.8M243.6 789.75L248.2 789.75M243.6 791.95L248.2 791.95" stroke="#1a1a1a" stroke-width="0.95" fill="none"/>
<path d="M285.2 702.2L285.2 706.6M283.29 703.3L287.11 705.5M283.29 705.5L287.11 703.3" stroke="#1a1a1a" stroke-width="1.05" fill="none"/>
<line x1="113.6" y1="696.7" x2="128" y2="696.7" stroke="#1200ff" stroke-width="1.6"/>
<circle cx="120.8" cy="696.7" r="3.3" fill="#1200ff"/>
<text x="141.3" y="701.73" font-size="11.2" fill="#231f20"><tspan font-size="6.72" dy="-4">13</tspan><tspan dy="4">C</tspan><tspan font-size="6.72" dy="2">6</tspan><tspan dy="-2">-fructose (4 mM)</tspan></text>
<line x1="113.6" y1="719.1" x2="128" y2="719.1" stroke="#ff1c10" stroke-width="1.6"/>
<circle cx="120.8" cy="719.1" r="3.3" fill="#ff1c10"/>
<text x="141.3" y="724.13" font-size="11.2" fill="#231f20"><tspan font-size="6.72" dy="-4">13</tspan><tspan dy="4">C</tspan><tspan font-size="6.72" dy="2">6</tspan><tspan dy="-2">-fructose (10 mM)</tspan></text>
<text x="64.5" y="760.46" font-size="11" text-anchor="middle" transform="rotate(-90 64.5 756.5)" fill="#231f20"><tspan font-size="6.6" dy="-4">13</tspan><tspan dy="4">C</tspan><tspan font-size="6.6" dy="2">3</tspan><tspan dy="-2">-lactate (pmol/10</tspan><tspan font-size="6.6" dy="-4">6</tspan><tspan dy="4"> cells)</tspan></text>
<text x="370" y="661.3" font-size="12" font-weight="bold" fill="#231f20">I</text>
<text x="531.4" y="674.36" font-size="11" text-anchor="middle" fill="#231f20">U87</text>
<line x1="429" y1="685.15" x2="429" y2="822.3" stroke="#231f20" stroke-width="1.5"/>
<line x1="423.5" y1="704.6" x2="429" y2="704.6" stroke="#231f20" stroke-width="1.5"/>
<text x="422" y="708.38" font-size="10.5" text-anchor="end" transform="translate(422 704.6) scale(0.96 1) translate(-422 -704.6)" fill="#231f20">600</text>
<line x1="423.5" y1="744.2" x2="429" y2="744.2" stroke="#231f20" stroke-width="1.5"/>
<text x="422" y="747.98" font-size="10.5" text-anchor="end" transform="translate(422 744.2) scale(0.96 1) translate(-422 -744.2)" fill="#231f20">400</text>
<line x1="423.5" y1="783.8" x2="429" y2="783.8" stroke="#231f20" stroke-width="1.5"/>
<text x="422" y="787.58" font-size="10.5" text-anchor="end" transform="translate(422 783.8) scale(0.96 1) translate(-422 -783.8)" fill="#231f20">200</text>
<line x1="423.5" y1="822.3" x2="429" y2="822.3" stroke="#231f20" stroke-width="1.5"/>
<text x="422" y="826.08" font-size="10.5" text-anchor="end" transform="translate(422 822.3) scale(0.96 1) translate(-422 -822.3)" fill="#231f20">0</text>
<line x1="428.25" y1="822.3" x2="633.6" y2="822.3" stroke="#231f20" stroke-width="1.5"/>
<line x1="454.4" y1="822.3" x2="454.4" y2="826.3" stroke="#231f20" stroke-width="1.5"/>
<text x="454.4" y="839.18" font-size="10.5" text-anchor="middle" transform="translate(454.4 835.4) scale(0.96 1) translate(-454.4 -835.4)" fill="#231f20">0</text>
<line x1="493.2" y1="822.3" x2="493.2" y2="826.3" stroke="#231f20" stroke-width="1.5"/>
<text x="493.2" y="839.18" font-size="10.5" text-anchor="middle" transform="translate(493.2 835.4) scale(0.96 1) translate(-493.2 -835.4)" fill="#231f20">1</text>
<line x1="531.4" y1="822.3" x2="531.4" y2="826.3" stroke="#231f20" stroke-width="1.5"/>
<text x="531.4" y="839.18" font-size="10.5" text-anchor="middle" transform="translate(531.4 835.4) scale(0.96 1) translate(-531.4 -835.4)" fill="#231f20">2</text>
<line x1="570" y1="822.3" x2="570" y2="826.3" stroke="#231f20" stroke-width="1.5"/>
<text x="570" y="839.18" font-size="10.5" text-anchor="middle" transform="translate(570 835.4) scale(0.96 1) translate(-570 -835.4)" fill="#231f20">4</text>
<line x1="608.5" y1="822.3" x2="608.5" y2="826.3" stroke="#231f20" stroke-width="1.5"/>
<text x="608.5" y="839.18" font-size="10.5" text-anchor="middle" transform="translate(608.5 835.4) scale(0.96 1) translate(-608.5 -835.4)" fill="#231f20">8</text>
<text x="531.6" y="855.76" font-size="11" text-anchor="middle" fill="#231f20">Time (h)</text>
<line x1="570" y1="764.7" x2="570" y2="768.7" stroke="#ff1c10" stroke-width="0.85"/>
<line x1="567" y1="764.7" x2="573" y2="764.7" stroke="#ff1c10" stroke-width="0.85"/>
<line x1="567" y1="768.7" x2="573" y2="768.7" stroke="#ff1c10" stroke-width="0.85"/>
<line x1="608.5" y1="720.3" x2="608.5" y2="728.3" stroke="#ff1c10" stroke-width="0.85"/>
<line x1="605.5" y1="720.3" x2="611.5" y2="720.3" stroke="#ff1c10" stroke-width="0.85"/>
<line x1="605.5" y1="728.3" x2="611.5" y2="728.3" stroke="#ff1c10" stroke-width="0.85"/>
<polyline points="454.4,816 493.2,761.8 531.4,747.4 570,766.7 608.5,724.3" fill="none" stroke="#ff1c10" stroke-width="1.5"/>
<circle cx="454.4" cy="816" r="3" fill="#ff1c10"/>
<circle cx="493.2" cy="761.8" r="3" fill="#ff1c10"/>
<circle cx="531.4" cy="747.4" r="3" fill="#ff1c10"/>
<circle cx="570" cy="766.7" r="3" fill="#ff1c10"/>
<circle cx="608.5" cy="724.3" r="3" fill="#ff1c10"/>
<line x1="493.2" y1="800" x2="493.2" y2="813" stroke="#1200ff" stroke-width="0.85"/>
<line x1="490.2" y1="800" x2="496.2" y2="800" stroke="#1200ff" stroke-width="0.85"/>
<line x1="490.2" y1="813" x2="496.2" y2="813" stroke="#1200ff" stroke-width="0.85"/>
<line x1="570" y1="799.5" x2="570" y2="808.3" stroke="#1200ff" stroke-width="0.85"/>
<line x1="567" y1="799.5" x2="573" y2="799.5" stroke="#1200ff" stroke-width="0.85"/>
<line x1="567" y1="808.3" x2="573" y2="808.3" stroke="#1200ff" stroke-width="0.85"/>
<polyline points="454.4,816.1 493.2,806.5 531.4,804.9 570,803.9 608.5,787.5" fill="none" stroke="#1200ff" stroke-width="1.5"/>
<circle cx="454.4" cy="816.1" r="3" fill="#1200ff"/>
<circle cx="493.2" cy="806.5" r="3" fill="#1200ff"/>
<circle cx="531.4" cy="804.9" r="3" fill="#1200ff"/>
<circle cx="570" cy="803.9" r="3" fill="#1200ff"/>
<circle cx="608.5" cy="787.5" r="3" fill="#1200ff"/>
<path d="M492.35 768.2L491.65 774.2M494.75 768.2L494.05 774.2M490.9 770.15L495.5 770.15M490.9 772.35L495.5 772.35" stroke="#1a1a1a" stroke-width="0.95" fill="none"/>
<path d="M530.55 754.7L529.85 760.7M532.95 754.7L532.25 760.7M529.1 756.65L533.7 756.65M529.1 758.85L533.7 758.85" stroke="#1a1a1a" stroke-width="0.95" fill="none"/>
<path d="M569.15 773.3L568.45 779.3M571.55 773.3L570.85 779.3M567.7 775.25L572.3 775.25M567.7 777.45L572.3 777.45" stroke="#1a1a1a" stroke-width="0.95" fill="none"/>
<path d="M607.65 731.8L606.95 737.8M610.05 731.8L609.35 737.8M606.2 733.75L610.8 733.75M606.2 735.95L610.8 735.95" stroke="#1a1a1a" stroke-width="0.95" fill="none"/>
<line x1="438.8" y1="696.8" x2="453.5" y2="696.8" stroke="#1200ff" stroke-width="1.6"/>
<circle cx="446.6" cy="696.8" r="3.3" fill="#1200ff"/>
<text x="468.5" y="701.83" font-size="11.2" fill="#231f20"><tspan font-size="6.72" dy="-4">13</tspan><tspan dy="4">C</tspan><tspan font-size="6.72" dy="2">6</tspan><tspan dy="-2">-fructose (4 mM)</tspan></text>
<line x1="438.8" y1="719.8" x2="453.5" y2="719.8" stroke="#ff1c10" stroke-width="1.6"/>
<circle cx="446.6" cy="719.8" r="3.3" fill="#ff1c10"/>
<text x="468.5" y="724.83" font-size="11.2" fill="#231f20"><tspan font-size="6.72" dy="-4">13</tspan><tspan dy="4">C</tspan><tspan font-size="6.72" dy="2">6</tspan><tspan dy="-2">-fructose (10 mM)</tspan></text>
<text x="392" y="760.76" font-size="11" text-anchor="middle" transform="rotate(-90 392 756.8)" fill="#231f20"><tspan font-size="6.6" dy="-4">13</tspan><tspan dy="4">C</tspan><tspan font-size="6.6" dy="2">3</tspan><tspan dy="-2">-lactate (pmol/10</tspan><tspan font-size="6.6" dy="-4">6</tspan><tspan dy="4"> cells)</tspan></text>
</svg></body></html>
